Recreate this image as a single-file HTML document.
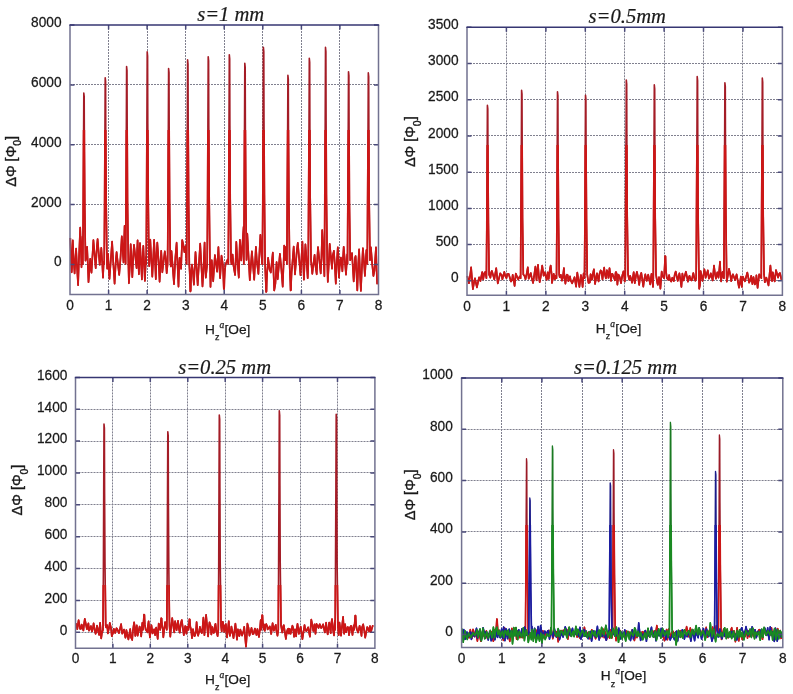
<!DOCTYPE html><html><head><meta charset="utf-8"><style>html,body{margin:0;padding:0;background:#fff;}svg{display:block;filter:blur(0.35px);}.t{font-family:"Liberation Sans",sans-serif;font-size:13.7px;fill:#1a1a1a;stroke:#1a1a1a;stroke-width:0.25px;}.ti{font-family:"Liberation Serif",serif;font-style:italic;font-size:20.6px;fill:#1a1a1a;stroke:#1a1a1a;stroke-width:0.2px;}.yl{font-family:"Liberation Sans",sans-serif;font-size:14.5px;fill:#1a1a1a;stroke:#1a1a1a;stroke-width:0.35px;}</style></head><body>
<svg width="793" height="694" viewBox="0 0 793 694">
<rect width="793" height="694" fill="#fff"/>
<defs><clipPath id="cp1"><rect x="68.0" y="130.0" width="312.5" height="166.4"/></clipPath><clipPath id="cp2"><rect x="465.0" y="145.0" width="319.4" height="152.3"/></clipPath><clipPath id="cp3"><rect x="73.5" y="585.0" width="303.4" height="65.2"/></clipPath><clipPath id="cp4"><rect x="459.6" y="525.0" width="325.2" height="124.4"/></clipPath></defs>
<path d="M108.5 25.0V294.4M147.5 25.0V294.4M185.5 25.0V294.4M224.5 25.0V294.4M262.5 25.0V294.4M301.5 25.0V294.4M339.5 25.0V294.4M70.0 264.5H378.5M70.0 204.5H378.5M70.0 144.5H378.5M70.0 84.5H378.5" stroke="#80808f" stroke-width="1" stroke-dasharray="2 1" fill="none"/>
<path d="M70.3 238.0 L71.1 259.7 L71.7 272.3 L72.3 261.9 L72.8 240.3 L73.5 257.4 L74.6 273.4 L75.5 257.7 L76.1 248.6 L77.4 273.8 L78.1 285.1 L78.9 260.3 L80.2 227.5 L81.5 267.3 L82.6 236.6 L82.8 264.0 L83.2 212.7 L83.5 151.2 L83.8 93.1 L84.2 96.5 L84.4 151.2 L84.8 209.3 L85.5 260.6 L86.5 255.7 L87.1 246.8 L87.8 263.4 L88.5 282.2 L90.2 258.9 L90.7 267.2 L91.5 272.7 L93.4 240.1 L95.7 268.2 L96.9 246.5 L97.6 239.0 L99.7 264.8 L100.8 254.9 L101.3 247.9 L102.3 263.8 L103.0 277.7 L103.7 261.5 L104.2 264.0 L104.6 208.1 L104.9 141.0 L105.2 77.7 L105.6 81.4 L105.8 141.0 L106.2 204.4 L106.9 260.3 L107.2 268.8 L108.1 254.0 L108.6 266.2 L109.5 278.9 L112.1 241.6 L113.2 261.3 L114.6 283.7 L115.9 259.7 L116.6 252.0 L118.1 265.6 L119.2 275.0 L120.4 259.6 L121.8 236.3 L123.5 262.5 L124.1 241.5 L124.6 225.9 L125.6 264.0 L126.0 204.8 L126.3 133.7 L126.6 66.6 L127.0 70.5 L127.2 133.7 L127.5 200.8 L128.3 260.1 L128.9 283.3 L130.1 261.5 L130.7 244.2 L131.5 260.7 L132.3 277.1 L133.3 255.1 L134.0 244.8 L136.6 268.1 L137.2 248.9 L137.6 240.4 L138.9 274.3 L140.0 243.1 L141.9 279.4 L142.5 261.0 L143.3 245.8 L144.9 280.9 L146.0 256.7 L146.2 264.0 L146.6 200.4 L146.9 124.0 L147.2 51.9 L147.6 56.1 L147.8 124.0 L148.2 196.1 L148.9 259.8 L149.2 266.2 L150.3 239.7 L150.9 251.8 L152.3 276.7 L153.3 256.9 L154.1 239.8 L154.8 254.8 L155.8 279.1 L156.7 253.0 L157.3 242.6 L158.6 260.7 L159.6 281.8 L160.5 263.7 L161.2 250.9 L161.8 260.9 L162.3 272.3 L163.6 261.5 L164.8 251.3 L165.8 259.4 L166.7 273.2 L167.6 264.0 L168.0 205.4 L168.3 135.0 L168.6 68.6 L169.0 72.5 L169.2 135.0 L169.6 201.5 L170.3 260.1 L170.8 266.5 L171.5 251.0 L174.0 284.1 L175.4 257.3 L176.6 242.7 L178.5 286.6 L179.1 266.7 L179.6 257.9 L181.1 268.8 L181.5 256.3 L182.2 240.0 L183.3 244.5 L184.4 252.1 L185.5 246.3 L186.6 264.0 L187.0 202.8 L187.3 129.3 L187.6 59.9 L188.0 64.0 L188.2 129.3 L188.6 198.7 L189.3 264.0 L189.7 272.2 L190.0 282.1 L190.3 291.5 L190.7 290.9 L190.9 282.1 L191.2 272.8 L192.0 264.6 L193.1 274.3 L193.9 284.6 L195.5 252.0 L196.4 264.7 L197.7 285.2 L198.4 272.4 L200.2 243.6 L202.5 286.5 L203.3 273.1 L204.6 242.5 L205.1 263.8 L205.8 277.6 L207.2 264.0 L207.6 201.8 L207.9 127.2 L208.2 56.7 L208.6 60.8 L208.8 127.2 L209.2 197.7 L209.9 259.9 L210.5 287.0 L211.2 269.6 L211.8 260.2 L212.6 273.7 L213.2 281.3 L214.9 255.1 L217.1 271.6 L217.5 263.7 L218.4 247.0 L219.0 260.6 L220.1 278.1 L221.5 255.7 L222.8 264.0 L223.2 271.5 L223.5 280.5 L223.8 289.0 L224.2 288.5 L224.4 280.5 L224.8 272.0 L225.5 264.5 L227.7 259.4 L228.3 264.0 L228.7 201.2 L229.0 125.9 L229.3 54.7 L229.7 58.9 L229.9 125.9 L230.2 197.0 L231.0 259.8 L231.5 264.1 L232.6 254.5 L233.5 265.6 L235.1 275.0 L235.9 254.2 L236.3 241.9 L237.3 259.3 L238.8 277.6 L239.2 263.4 L239.9 239.8 L241.3 260.5 L242.1 248.5 L243.6 226.8 L243.8 264.0 L244.2 203.8 L244.5 131.6 L244.8 63.4 L245.2 67.4 L245.4 131.6 L245.8 199.8 L246.5 260.0 L247.3 233.7 L248.2 250.1 L249.8 280.1 L251.9 251.4 L254.2 279.8 L255.9 246.9 L256.9 261.7 L258.4 274.0 L259.6 250.0 L260.4 234.8 L262.1 264.2 L262.4 264.0 L262.8 199.0 L263.1 120.9 L263.4 47.2 L263.8 51.5 L264.0 120.9 L264.4 194.6 L265.1 264.0 L265.4 272.4 L265.8 282.5 L266.1 292.0 L266.5 291.4 L266.7 282.5 L267.1 273.0 L267.8 264.6 L268.1 257.9 L269.6 269.5 L270.8 272.5 L272.8 252.5 L274.2 290.5 L275.4 283.5 L276.6 262.1 L277.3 271.8 L277.7 279.3 L279.9 253.8 L281.4 269.7 L282.7 286.7 L283.6 263.3 L284.2 245.5 L284.7 253.5 L285.4 260.2 L286.1 246.7 L286.7 248.9 L286.9 264.0 L287.2 207.4 L287.6 139.5 L287.9 75.3 L288.3 79.1 L288.5 139.5 L288.9 203.6 L289.6 264.0 L289.9 271.9 L290.3 281.5 L290.6 290.5 L291.0 290.0 L291.2 281.5 L291.6 272.5 L292.3 264.5 L293.7 246.5 L295.0 274.4 L296.9 249.9 L297.8 242.8 L300.5 275.1 L302.4 241.7 L303.9 279.7 L304.5 265.9 L305.4 244.3 L306.2 254.9 L307.7 278.2 L308.3 264.0 L308.6 202.3 L309.0 128.2 L309.3 58.3 L309.7 62.4 L309.9 128.2 L310.2 198.2 L311.0 259.9 L312.3 273.8 L313.0 267.6 L314.6 254.9 L315.4 265.3 L316.7 274.3 L317.3 259.1 L318.0 247.1 L320.7 273.5 L321.4 259.4 L322.2 230.0 L324.4 276.3 L324.5 264.0 L324.8 199.0 L325.2 120.9 L325.5 47.2 L325.9 51.5 L326.1 120.9 L326.4 194.6 L327.2 259.7 L327.8 281.9 L328.8 263.2 L329.7 243.8 L332.0 268.6 L332.7 255.6 L333.9 250.9 L334.7 262.5 L335.8 283.6 L336.6 266.1 L337.8 247.3 L338.4 256.0 L338.9 277.6 L339.6 267.6 L340.9 257.5 L342.4 271.3 L342.8 261.8 L343.7 246.8 L346.0 274.6 L347.2 254.3 L347.5 264.0 L347.8 206.3 L348.2 137.1 L348.5 71.7 L348.9 75.5 L349.1 137.1 L349.4 202.5 L350.2 260.2 L352.0 253.1 L353.7 281.5 L355.1 257.8 L355.6 256.1 L356.4 271.0 L357.3 290.4 L358.3 263.5 L359.1 249.4 L360.3 279.8 L360.9 290.9 L361.7 272.3 L362.9 248.2 L364.0 262.2 L364.9 276.0 L366.4 250.0 L367.3 264.0 L367.6 206.7 L368.0 137.9 L368.3 72.9 L368.7 76.7 L368.9 137.9 L369.2 202.8 L370.0 260.2 L370.4 251.6 L370.9 247.4 L372.2 264.0 L373.4 276.0 L374.4 270.9 L376.0 247.4 L376.6 269.9 L377.2 284.2" fill="none" stroke="#a41c26" stroke-width="1.6" stroke-linejoin="round"/>
<path d="M70.3 238.0 L71.1 259.7 L71.7 272.3 L72.3 261.9 L72.8 240.3 L73.5 257.4 L74.6 273.4 L75.5 257.7 L76.1 248.6 L77.4 273.8 L78.1 285.1 L78.9 260.3 L80.2 227.5 L81.5 267.3 L82.6 236.6 L82.8 264.0 L83.2 212.7 L83.5 151.2 L83.8 93.1 L84.2 96.5 L84.4 151.2 L84.8 209.3 L85.5 260.6 L86.5 255.7 L87.1 246.8 L87.8 263.4 L88.5 282.2 L90.2 258.9 L90.7 267.2 L91.5 272.7 L93.4 240.1 L95.7 268.2 L96.9 246.5 L97.6 239.0 L99.7 264.8 L100.8 254.9 L101.3 247.9 L102.3 263.8 L103.0 277.7 L103.7 261.5 L104.2 264.0 L104.6 208.1 L104.9 141.0 L105.2 77.7 L105.6 81.4 L105.8 141.0 L106.2 204.4 L106.9 260.3 L107.2 268.8 L108.1 254.0 L108.6 266.2 L109.5 278.9 L112.1 241.6 L113.2 261.3 L114.6 283.7 L115.9 259.7 L116.6 252.0 L118.1 265.6 L119.2 275.0 L120.4 259.6 L121.8 236.3 L123.5 262.5 L124.1 241.5 L124.6 225.9 L125.6 264.0 L126.0 204.8 L126.3 133.7 L126.6 66.6 L127.0 70.5 L127.2 133.7 L127.5 200.8 L128.3 260.1 L128.9 283.3 L130.1 261.5 L130.7 244.2 L131.5 260.7 L132.3 277.1 L133.3 255.1 L134.0 244.8 L136.6 268.1 L137.2 248.9 L137.6 240.4 L138.9 274.3 L140.0 243.1 L141.9 279.4 L142.5 261.0 L143.3 245.8 L144.9 280.9 L146.0 256.7 L146.2 264.0 L146.6 200.4 L146.9 124.0 L147.2 51.9 L147.6 56.1 L147.8 124.0 L148.2 196.1 L148.9 259.8 L149.2 266.2 L150.3 239.7 L150.9 251.8 L152.3 276.7 L153.3 256.9 L154.1 239.8 L154.8 254.8 L155.8 279.1 L156.7 253.0 L157.3 242.6 L158.6 260.7 L159.6 281.8 L160.5 263.7 L161.2 250.9 L161.8 260.9 L162.3 272.3 L163.6 261.5 L164.8 251.3 L165.8 259.4 L166.7 273.2 L167.6 264.0 L168.0 205.4 L168.3 135.0 L168.6 68.6 L169.0 72.5 L169.2 135.0 L169.6 201.5 L170.3 260.1 L170.8 266.5 L171.5 251.0 L174.0 284.1 L175.4 257.3 L176.6 242.7 L178.5 286.6 L179.1 266.7 L179.6 257.9 L181.1 268.8 L181.5 256.3 L182.2 240.0 L183.3 244.5 L184.4 252.1 L185.5 246.3 L186.6 264.0 L187.0 202.8 L187.3 129.3 L187.6 59.9 L188.0 64.0 L188.2 129.3 L188.6 198.7 L189.3 264.0 L189.7 272.2 L190.0 282.1 L190.3 291.5 L190.7 290.9 L190.9 282.1 L191.2 272.8 L192.0 264.6 L193.1 274.3 L193.9 284.6 L195.5 252.0 L196.4 264.7 L197.7 285.2 L198.4 272.4 L200.2 243.6 L202.5 286.5 L203.3 273.1 L204.6 242.5 L205.1 263.8 L205.8 277.6 L207.2 264.0 L207.6 201.8 L207.9 127.2 L208.2 56.7 L208.6 60.8 L208.8 127.2 L209.2 197.7 L209.9 259.9 L210.5 287.0 L211.2 269.6 L211.8 260.2 L212.6 273.7 L213.2 281.3 L214.9 255.1 L217.1 271.6 L217.5 263.7 L218.4 247.0 L219.0 260.6 L220.1 278.1 L221.5 255.7 L222.8 264.0 L223.2 271.5 L223.5 280.5 L223.8 289.0 L224.2 288.5 L224.4 280.5 L224.8 272.0 L225.5 264.5 L227.7 259.4 L228.3 264.0 L228.7 201.2 L229.0 125.9 L229.3 54.7 L229.7 58.9 L229.9 125.9 L230.2 197.0 L231.0 259.8 L231.5 264.1 L232.6 254.5 L233.5 265.6 L235.1 275.0 L235.9 254.2 L236.3 241.9 L237.3 259.3 L238.8 277.6 L239.2 263.4 L239.9 239.8 L241.3 260.5 L242.1 248.5 L243.6 226.8 L243.8 264.0 L244.2 203.8 L244.5 131.6 L244.8 63.4 L245.2 67.4 L245.4 131.6 L245.8 199.8 L246.5 260.0 L247.3 233.7 L248.2 250.1 L249.8 280.1 L251.9 251.4 L254.2 279.8 L255.9 246.9 L256.9 261.7 L258.4 274.0 L259.6 250.0 L260.4 234.8 L262.1 264.2 L262.4 264.0 L262.8 199.0 L263.1 120.9 L263.4 47.2 L263.8 51.5 L264.0 120.9 L264.4 194.6 L265.1 264.0 L265.4 272.4 L265.8 282.5 L266.1 292.0 L266.5 291.4 L266.7 282.5 L267.1 273.0 L267.8 264.6 L268.1 257.9 L269.6 269.5 L270.8 272.5 L272.8 252.5 L274.2 290.5 L275.4 283.5 L276.6 262.1 L277.3 271.8 L277.7 279.3 L279.9 253.8 L281.4 269.7 L282.7 286.7 L283.6 263.3 L284.2 245.5 L284.7 253.5 L285.4 260.2 L286.1 246.7 L286.7 248.9 L286.9 264.0 L287.2 207.4 L287.6 139.5 L287.9 75.3 L288.3 79.1 L288.5 139.5 L288.9 203.6 L289.6 264.0 L289.9 271.9 L290.3 281.5 L290.6 290.5 L291.0 290.0 L291.2 281.5 L291.6 272.5 L292.3 264.5 L293.7 246.5 L295.0 274.4 L296.9 249.9 L297.8 242.8 L300.5 275.1 L302.4 241.7 L303.9 279.7 L304.5 265.9 L305.4 244.3 L306.2 254.9 L307.7 278.2 L308.3 264.0 L308.6 202.3 L309.0 128.2 L309.3 58.3 L309.7 62.4 L309.9 128.2 L310.2 198.2 L311.0 259.9 L312.3 273.8 L313.0 267.6 L314.6 254.9 L315.4 265.3 L316.7 274.3 L317.3 259.1 L318.0 247.1 L320.7 273.5 L321.4 259.4 L322.2 230.0 L324.4 276.3 L324.5 264.0 L324.8 199.0 L325.2 120.9 L325.5 47.2 L325.9 51.5 L326.1 120.9 L326.4 194.6 L327.2 259.7 L327.8 281.9 L328.8 263.2 L329.7 243.8 L332.0 268.6 L332.7 255.6 L333.9 250.9 L334.7 262.5 L335.8 283.6 L336.6 266.1 L337.8 247.3 L338.4 256.0 L338.9 277.6 L339.6 267.6 L340.9 257.5 L342.4 271.3 L342.8 261.8 L343.7 246.8 L346.0 274.6 L347.2 254.3 L347.5 264.0 L347.8 206.3 L348.2 137.1 L348.5 71.7 L348.9 75.5 L349.1 137.1 L349.4 202.5 L350.2 260.2 L352.0 253.1 L353.7 281.5 L355.1 257.8 L355.6 256.1 L356.4 271.0 L357.3 290.4 L358.3 263.5 L359.1 249.4 L360.3 279.8 L360.9 290.9 L361.7 272.3 L362.9 248.2 L364.0 262.2 L364.9 276.0 L366.4 250.0 L367.3 264.0 L367.6 206.7 L368.0 137.9 L368.3 72.9 L368.7 76.7 L368.9 137.9 L369.2 202.8 L370.0 260.2 L370.4 251.6 L370.9 247.4 L372.2 264.0 L373.4 276.0 L374.4 270.9 L376.0 247.4 L376.6 269.9 L377.2 284.2" fill="none" stroke="#cc1616" stroke-width="1.7" stroke-linejoin="round" clip-path="url(#cp1)"/>
<path d="M108.6 294.4V289.9M108.6 25.0V29.5M147.1 294.4V289.9M147.1 25.0V29.5M185.7 294.4V289.9M185.7 25.0V29.5M224.2 294.4V289.9M224.2 25.0V29.5M262.8 294.4V289.9M262.8 25.0V29.5M301.4 294.4V289.9M301.4 25.0V29.5M339.9 294.4V289.9M339.9 25.0V29.5M70.0 264.5H74.5M378.5 264.5H374.0M70.0 204.6H74.5M378.5 204.6H374.0M70.0 144.7H74.5M378.5 144.7H374.0M70.0 84.9H74.5M378.5 84.9H374.0M70.0 25.0H74.5M378.5 25.0H374.0" stroke="#4a4a7a" stroke-width="1.5" fill="none"/>
<path d="M70.0 25.0V294.4H378.5V25.0" fill="none" stroke="#727290" stroke-width="1.5"/>
<path d="M69.3 25.0H379.2" fill="none" stroke="#363672" stroke-width="1.5"/>
<text class="t" transform="translate(70.0 309.5) scale(1 1.070)" text-anchor="middle">0</text>
<text class="t" transform="translate(108.6 309.5) scale(1 1.070)" text-anchor="middle">1</text>
<text class="t" transform="translate(147.1 309.5) scale(1 1.070)" text-anchor="middle">2</text>
<text class="t" transform="translate(185.7 309.5) scale(1 1.070)" text-anchor="middle">3</text>
<text class="t" transform="translate(224.2 309.5) scale(1 1.070)" text-anchor="middle">4</text>
<text class="t" transform="translate(262.8 309.5) scale(1 1.070)" text-anchor="middle">5</text>
<text class="t" transform="translate(301.4 309.5) scale(1 1.070)" text-anchor="middle">6</text>
<text class="t" transform="translate(339.9 309.5) scale(1 1.070)" text-anchor="middle">7</text>
<text class="t" transform="translate(378.5 309.5) scale(1 1.070)" text-anchor="middle">8</text>
<text class="t" transform="translate(61.5 266.4) scale(1 1.070)" text-anchor="end">0</text>
<text class="t" transform="translate(61.5 206.5) scale(1 1.070)" text-anchor="end">2000</text>
<text class="t" transform="translate(61.5 146.6) scale(1 1.070)" text-anchor="end">4000</text>
<text class="t" transform="translate(61.5 86.8) scale(1 1.070)" text-anchor="end">6000</text>
<text class="t" transform="translate(61.5 26.9) scale(1 1.070)" text-anchor="end">8000</text>
<text class="ti" x="230.7" y="20.8" text-anchor="middle">s=1 mm</text>
<text class="t" x="205.0" y="333.5">H<tspan font-size="9" dy="6.6">z</tspan><tspan font-family="Liberation Serif" font-style="italic" font-size="9.5" dy="-12.4">a</tspan><tspan dx="0.4" dy="5.8">[Oe]</tspan></text>
<text class="yl" transform="translate(10.5 161.3) rotate(-90)" text-anchor="middle" y="5">ΔΦ [Φ<tspan font-size="10.5" dy="5.5">0</tspan><tspan dy="-5.5">]</tspan></text>
<path d="M506.5 27.3V295.3M545.5 27.3V295.3M585.5 27.3V295.3M624.5 27.3V295.3M664.5 27.3V295.3M703.5 27.3V295.3M742.5 27.3V295.3M467.0 280.5H782.4M467.0 244.5H782.4M467.0 208.5H782.4M467.0 172.5H782.4M467.0 135.5H782.4M467.0 99.5H782.4M467.0 63.5H782.4" stroke="#80808f" stroke-width="1" stroke-dasharray="2 1" fill="none"/>
<path d="M467.3 276.0 L469.0 283.2 L470.1 276.0 L471.1 267.4 L472.3 282.2 L472.9 289.1 L474.1 282.0 L475.0 278.3 L476.9 287.4 L477.8 283.2 L479.1 277.4 L480.4 281.0 L482.2 272.1 L483.2 279.4 L484.3 273.2 L485.4 271.8 L486.4 278.2 L486.8 226.4 L487.1 164.2 L487.4 105.4 L487.8 108.9 L488.0 164.2 L488.4 222.9 L489.1 274.7 L490.4 277.6 L491.2 272.3 L491.9 270.9 L494.3 279.3 L496.2 268.2 L497.8 283.4 L500.2 273.4 L501.6 275.1 L502.4 279.3 L504.3 271.9 L505.3 276.1 L506.4 278.2 L507.4 274.0 L508.7 273.9 L511.0 281.5 L512.1 279.9 L512.7 274.9 L513.7 280.2 L514.6 285.9 L515.8 273.6 L518.2 279.5 L519.6 276.5 L520.6 278.2 L520.9 221.9 L521.3 154.3 L521.6 90.4 L522.0 94.2 L522.2 154.3 L522.5 218.1 L523.3 274.4 L523.4 274.6 L524.7 276.3 L525.5 279.2 L526.6 274.1 L527.8 267.3 L528.7 278.7 L530.8 273.1 L531.7 277.7 L533.1 283.0 L535.4 266.6 L536.5 280.3 L537.2 271.8 L538.0 264.9 L538.9 276.8 L539.7 282.2 L540.8 276.4 L542.2 265.6 L543.0 270.8 L543.6 275.6 L544.8 272.4 L546.7 279.8 L547.7 272.4 L548.7 278.9 L549.9 269.2 L550.7 265.5 L551.6 274.1 L551.9 283.0 L553.0 278.2 L553.7 273.8 L554.9 279.2 L555.7 275.8 L556.5 278.2 L556.9 222.3 L557.2 155.2 L557.5 91.8 L557.9 95.5 L558.1 155.2 L558.5 218.6 L559.2 274.5 L559.7 277.1 L560.8 274.8 L562.0 280.6 L562.8 277.9 L563.9 268.0 L564.4 275.9 L565.4 283.7 L566.5 275.4 L567.0 274.6 L567.7 275.1 L568.4 281.2 L570.0 276.4 L570.7 280.4 L572.2 283.3 L574.5 277.2 L576.1 286.7 L577.3 272.6 L578.7 282.2 L579.4 286.9 L580.9 275.0 L581.8 279.2 L582.6 286.9 L583.6 273.5 L584.5 278.2 L584.9 223.3 L585.2 157.4 L585.5 95.2 L585.9 98.9 L586.1 157.4 L586.5 219.6 L587.2 274.5 L588.5 282.9 L589.8 282.5 L590.6 274.2 L591.6 276.8 L592.0 279.6 L592.8 274.1 L593.9 269.3 L594.6 278.1 L595.0 284.0 L597.0 273.4 L598.6 281.4 L599.5 274.0 L600.6 270.4 L601.4 271.4 L602.5 279.5 L603.5 271.5 L604.2 267.6 L604.7 273.5 L605.9 278.4 L606.9 270.2 L607.9 273.2 L608.4 277.8 L608.8 275.0 L609.5 268.2 L610.1 272.5 L611.0 280.8 L611.8 274.1 L612.4 273.8 L614.9 280.3 L615.5 273.0 L616.0 272.0 L616.7 273.8 L617.4 284.7 L618.0 278.2 L618.5 274.7 L619.7 277.2 L621.0 283.1 L622.3 275.5 L623.4 271.4 L624.3 277.2 L624.7 281.5 L625.3 278.2 L625.6 218.8 L626.0 147.5 L626.3 80.1 L626.7 84.1 L626.9 147.5 L627.2 214.8 L628.0 274.2 L629.2 279.7 L630.2 275.9 L631.1 278.8 L632.1 282.7 L633.7 272.2 L634.8 283.1 L636.1 275.2 L636.9 271.9 L638.1 277.2 L639.2 285.0 L640.3 275.8 L641.3 272.9 L643.3 286.6 L644.0 280.8 L645.3 274.4 L646.7 280.8 L648.2 274.7 L650.2 284.4 L650.9 278.1 L651.5 273.8 L653.0 287.0 L653.3 278.2 L653.6 220.2 L654.0 150.6 L654.3 84.9 L654.7 88.8 L654.9 150.6 L655.2 216.3 L656.0 274.3 L657.3 283.0 L657.8 284.8 L659.0 277.2 L659.9 282.3 L660.4 288.7 L661.7 271.6 L662.5 275.8 L664.1 278.2 L664.4 271.5 L664.8 263.5 L665.1 256.0 L665.5 256.4 L665.7 263.5 L666.0 271.1 L666.8 277.8 L668.1 279.9 L669.1 275.1 L669.9 279.5 L671.2 281.5 L671.8 279.6 L672.3 277.7 L673.8 281.1 L674.7 274.7 L675.7 271.5 L677.7 280.9 L679.4 273.3 L680.7 281.8 L681.4 286.9 L682.4 273.6 L683.5 280.4 L685.9 271.7 L687.9 281.6 L688.9 277.2 L689.5 275.8 L690.4 279.1 L691.7 280.5 L693.3 273.0 L694.7 279.6 L695.4 280.7 L696.2 278.2 L696.5 217.7 L696.9 145.1 L697.2 76.6 L697.6 80.6 L697.8 145.1 L698.1 213.7 L698.9 274.2 L699.2 288.8 L699.9 285.4 L700.6 271.0 L701.6 276.1 L702.5 280.9 L704.4 269.4 L705.2 273.3 L705.6 277.8 L707.8 270.4 L708.9 278.7 L710.1 276.5 L710.8 273.3 L712.7 280.5 L714.0 265.5 L715.0 274.2 L716.0 278.7 L717.3 272.3 L718.5 277.6 L719.4 268.8 L720.0 261.7 L720.4 270.7 L721.1 281.4 L721.8 274.1 L722.7 271.8 L723.5 277.8 L723.9 278.2 L724.2 219.6 L724.6 149.2 L724.9 82.8 L725.3 86.7 L725.5 149.2 L725.9 215.7 L726.6 274.3 L726.8 281.7 L729.0 268.8 L730.3 275.0 L731.2 281.1 L732.0 276.8 L732.9 274.3 L735.1 280.0 L735.6 277.7 L736.6 274.4 L739.0 287.6 L739.7 284.4 L740.9 276.5 L741.9 286.9 L742.3 279.4 L742.9 276.7 L743.6 278.3 L745.0 281.3 L747.3 272.5 L748.3 277.3 L749.1 282.7 L750.2 280.6 L751.2 275.9 L752.4 284.1 L753.5 277.1 L754.8 284.4 L755.9 282.8 L756.4 275.4 L757.1 282.9 L757.6 287.8 L759.2 274.3 L761.3 278.2 L761.6 218.1 L762.0 146.1 L762.3 78.0 L762.7 82.0 L762.9 146.1 L763.2 214.1 L764.0 274.2 L764.4 277.4 L764.8 282.2 L765.4 279.6 L766.4 277.7 L768.5 285.4 L769.3 277.1 L770.4 265.5 L771.6 280.4 L772.1 281.0 L772.8 272.4 L774.7 281.4 L776.0 270.1 L778.1 277.6 L779.1 273.9 L779.9 273.0 L780.5 275.2 L781.6 280.2" fill="none" stroke="#a41c26" stroke-width="1.6" stroke-linejoin="round"/>
<path d="M467.3 276.0 L469.0 283.2 L470.1 276.0 L471.1 267.4 L472.3 282.2 L472.9 289.1 L474.1 282.0 L475.0 278.3 L476.9 287.4 L477.8 283.2 L479.1 277.4 L480.4 281.0 L482.2 272.1 L483.2 279.4 L484.3 273.2 L485.4 271.8 L486.4 278.2 L486.8 226.4 L487.1 164.2 L487.4 105.4 L487.8 108.9 L488.0 164.2 L488.4 222.9 L489.1 274.7 L490.4 277.6 L491.2 272.3 L491.9 270.9 L494.3 279.3 L496.2 268.2 L497.8 283.4 L500.2 273.4 L501.6 275.1 L502.4 279.3 L504.3 271.9 L505.3 276.1 L506.4 278.2 L507.4 274.0 L508.7 273.9 L511.0 281.5 L512.1 279.9 L512.7 274.9 L513.7 280.2 L514.6 285.9 L515.8 273.6 L518.2 279.5 L519.6 276.5 L520.6 278.2 L520.9 221.9 L521.3 154.3 L521.6 90.4 L522.0 94.2 L522.2 154.3 L522.5 218.1 L523.3 274.4 L523.4 274.6 L524.7 276.3 L525.5 279.2 L526.6 274.1 L527.8 267.3 L528.7 278.7 L530.8 273.1 L531.7 277.7 L533.1 283.0 L535.4 266.6 L536.5 280.3 L537.2 271.8 L538.0 264.9 L538.9 276.8 L539.7 282.2 L540.8 276.4 L542.2 265.6 L543.0 270.8 L543.6 275.6 L544.8 272.4 L546.7 279.8 L547.7 272.4 L548.7 278.9 L549.9 269.2 L550.7 265.5 L551.6 274.1 L551.9 283.0 L553.0 278.2 L553.7 273.8 L554.9 279.2 L555.7 275.8 L556.5 278.2 L556.9 222.3 L557.2 155.2 L557.5 91.8 L557.9 95.5 L558.1 155.2 L558.5 218.6 L559.2 274.5 L559.7 277.1 L560.8 274.8 L562.0 280.6 L562.8 277.9 L563.9 268.0 L564.4 275.9 L565.4 283.7 L566.5 275.4 L567.0 274.6 L567.7 275.1 L568.4 281.2 L570.0 276.4 L570.7 280.4 L572.2 283.3 L574.5 277.2 L576.1 286.7 L577.3 272.6 L578.7 282.2 L579.4 286.9 L580.9 275.0 L581.8 279.2 L582.6 286.9 L583.6 273.5 L584.5 278.2 L584.9 223.3 L585.2 157.4 L585.5 95.2 L585.9 98.9 L586.1 157.4 L586.5 219.6 L587.2 274.5 L588.5 282.9 L589.8 282.5 L590.6 274.2 L591.6 276.8 L592.0 279.6 L592.8 274.1 L593.9 269.3 L594.6 278.1 L595.0 284.0 L597.0 273.4 L598.6 281.4 L599.5 274.0 L600.6 270.4 L601.4 271.4 L602.5 279.5 L603.5 271.5 L604.2 267.6 L604.7 273.5 L605.9 278.4 L606.9 270.2 L607.9 273.2 L608.4 277.8 L608.8 275.0 L609.5 268.2 L610.1 272.5 L611.0 280.8 L611.8 274.1 L612.4 273.8 L614.9 280.3 L615.5 273.0 L616.0 272.0 L616.7 273.8 L617.4 284.7 L618.0 278.2 L618.5 274.7 L619.7 277.2 L621.0 283.1 L622.3 275.5 L623.4 271.4 L624.3 277.2 L624.7 281.5 L625.3 278.2 L625.6 218.8 L626.0 147.5 L626.3 80.1 L626.7 84.1 L626.9 147.5 L627.2 214.8 L628.0 274.2 L629.2 279.7 L630.2 275.9 L631.1 278.8 L632.1 282.7 L633.7 272.2 L634.8 283.1 L636.1 275.2 L636.9 271.9 L638.1 277.2 L639.2 285.0 L640.3 275.8 L641.3 272.9 L643.3 286.6 L644.0 280.8 L645.3 274.4 L646.7 280.8 L648.2 274.7 L650.2 284.4 L650.9 278.1 L651.5 273.8 L653.0 287.0 L653.3 278.2 L653.6 220.2 L654.0 150.6 L654.3 84.9 L654.7 88.8 L654.9 150.6 L655.2 216.3 L656.0 274.3 L657.3 283.0 L657.8 284.8 L659.0 277.2 L659.9 282.3 L660.4 288.7 L661.7 271.6 L662.5 275.8 L664.1 278.2 L664.4 271.5 L664.8 263.5 L665.1 256.0 L665.5 256.4 L665.7 263.5 L666.0 271.1 L666.8 277.8 L668.1 279.9 L669.1 275.1 L669.9 279.5 L671.2 281.5 L671.8 279.6 L672.3 277.7 L673.8 281.1 L674.7 274.7 L675.7 271.5 L677.7 280.9 L679.4 273.3 L680.7 281.8 L681.4 286.9 L682.4 273.6 L683.5 280.4 L685.9 271.7 L687.9 281.6 L688.9 277.2 L689.5 275.8 L690.4 279.1 L691.7 280.5 L693.3 273.0 L694.7 279.6 L695.4 280.7 L696.2 278.2 L696.5 217.7 L696.9 145.1 L697.2 76.6 L697.6 80.6 L697.8 145.1 L698.1 213.7 L698.9 274.2 L699.2 288.8 L699.9 285.4 L700.6 271.0 L701.6 276.1 L702.5 280.9 L704.4 269.4 L705.2 273.3 L705.6 277.8 L707.8 270.4 L708.9 278.7 L710.1 276.5 L710.8 273.3 L712.7 280.5 L714.0 265.5 L715.0 274.2 L716.0 278.7 L717.3 272.3 L718.5 277.6 L719.4 268.8 L720.0 261.7 L720.4 270.7 L721.1 281.4 L721.8 274.1 L722.7 271.8 L723.5 277.8 L723.9 278.2 L724.2 219.6 L724.6 149.2 L724.9 82.8 L725.3 86.7 L725.5 149.2 L725.9 215.7 L726.6 274.3 L726.8 281.7 L729.0 268.8 L730.3 275.0 L731.2 281.1 L732.0 276.8 L732.9 274.3 L735.1 280.0 L735.6 277.7 L736.6 274.4 L739.0 287.6 L739.7 284.4 L740.9 276.5 L741.9 286.9 L742.3 279.4 L742.9 276.7 L743.6 278.3 L745.0 281.3 L747.3 272.5 L748.3 277.3 L749.1 282.7 L750.2 280.6 L751.2 275.9 L752.4 284.1 L753.5 277.1 L754.8 284.4 L755.9 282.8 L756.4 275.4 L757.1 282.9 L757.6 287.8 L759.2 274.3 L761.3 278.2 L761.6 218.1 L762.0 146.1 L762.3 78.0 L762.7 82.0 L762.9 146.1 L763.2 214.1 L764.0 274.2 L764.4 277.4 L764.8 282.2 L765.4 279.6 L766.4 277.7 L768.5 285.4 L769.3 277.1 L770.4 265.5 L771.6 280.4 L772.1 281.0 L772.8 272.4 L774.7 281.4 L776.0 270.1 L778.1 277.6 L779.1 273.9 L779.9 273.0 L780.5 275.2 L781.6 280.2" fill="none" stroke="#cc1616" stroke-width="1.7" stroke-linejoin="round" clip-path="url(#cp2)"/>
<path d="M506.4 295.3V290.8M506.4 27.3V31.8M545.9 295.3V290.8M545.9 27.3V31.8M585.3 295.3V290.8M585.3 27.3V31.8M624.7 295.3V290.8M624.7 27.3V31.8M664.1 295.3V290.8M664.1 27.3V31.8M703.5 295.3V290.8M703.5 27.3V31.8M743.0 295.3V290.8M743.0 27.3V31.8M467.0 280.8H471.5M782.4 280.8H777.9M467.0 244.6H471.5M782.4 244.6H777.9M467.0 208.4H471.5M782.4 208.4H777.9M467.0 172.2H471.5M782.4 172.2H777.9M467.0 135.9H471.5M782.4 135.9H777.9M467.0 99.7H471.5M782.4 99.7H777.9M467.0 63.5H471.5M782.4 63.5H777.9M467.0 27.3H471.5M782.4 27.3H777.9" stroke="#4a4a7a" stroke-width="1.5" fill="none"/>
<path d="M467.0 27.3V295.3H782.4V27.3" fill="none" stroke="#727290" stroke-width="1.5"/>
<path d="M466.3 27.3H783.1" fill="none" stroke="#363672" stroke-width="1.5"/>
<text class="t" transform="translate(467.0 310.5) scale(1 1.070)" text-anchor="middle">0</text>
<text class="t" transform="translate(506.4 310.5) scale(1 1.070)" text-anchor="middle">1</text>
<text class="t" transform="translate(545.9 310.5) scale(1 1.070)" text-anchor="middle">2</text>
<text class="t" transform="translate(585.3 310.5) scale(1 1.070)" text-anchor="middle">3</text>
<text class="t" transform="translate(624.7 310.5) scale(1 1.070)" text-anchor="middle">4</text>
<text class="t" transform="translate(664.1 310.5) scale(1 1.070)" text-anchor="middle">5</text>
<text class="t" transform="translate(703.5 310.5) scale(1 1.070)" text-anchor="middle">6</text>
<text class="t" transform="translate(743.0 310.5) scale(1 1.070)" text-anchor="middle">7</text>
<text class="t" transform="translate(782.4 310.5) scale(1 1.070)" text-anchor="middle">8</text>
<text class="t" transform="translate(458.5 282.4) scale(1 1.070)" text-anchor="end">0</text>
<text class="t" transform="translate(458.5 246.2) scale(1 1.070)" text-anchor="end">500</text>
<text class="t" transform="translate(458.5 210.0) scale(1 1.070)" text-anchor="end">1000</text>
<text class="t" transform="translate(458.5 173.8) scale(1 1.070)" text-anchor="end">1500</text>
<text class="t" transform="translate(458.5 137.5) scale(1 1.070)" text-anchor="end">2000</text>
<text class="t" transform="translate(458.5 101.3) scale(1 1.070)" text-anchor="end">2500</text>
<text class="t" transform="translate(458.5 65.1) scale(1 1.070)" text-anchor="end">3000</text>
<text class="t" transform="translate(458.5 28.9) scale(1 1.070)" text-anchor="end">3500</text>
<text class="ti" x="627.3" y="22.7" text-anchor="middle">s=0.5mm</text>
<text class="t" x="595.8" y="332.7">H<tspan font-size="9" dy="6.6">z</tspan><tspan font-family="Liberation Serif" font-style="italic" font-size="9.5" dy="-12.4">a</tspan><tspan dx="0.4" dy="5.8">[Oe]</tspan></text>
<text class="yl" transform="translate(410.0 141.7) rotate(-90)" text-anchor="middle" y="5">ΔΦ [Φ<tspan font-size="10.5" dy="5.5">0</tspan><tspan dy="-5.5">]</tspan></text>
<path d="M112.5 377.4V648.2M150.5 377.4V648.2M187.5 377.4V648.2M225.5 377.4V648.2M262.5 377.4V648.2M300.5 377.4V648.2M337.5 377.4V648.2M75.5 632.5H374.9M75.5 600.5H374.9M75.5 568.5H374.9M75.5 536.5H374.9M75.5 504.5H374.9M75.5 472.5H374.9M75.5 441.5H374.9M75.5 409.5H374.9" stroke="#80808f" stroke-width="1" stroke-dasharray="2 1" fill="none"/>
<path d="M75.8 623.3 L76.8 626.9 L77.3 629.2 L78.6 620.2 L80.1 628.9 L81.1 628.6 L81.7 624.6 L82.4 627.0 L83.4 630.4 L84.0 624.6 L84.8 618.9 L86.9 629.2 L87.4 627.5 L88.2 624.0 L88.4 623.4 L89.0 630.7 L90.9 626.1 L91.8 630.8 L92.1 631.3 L93.1 627.3 L93.6 623.3 L94.9 630.6 L95.6 633.8 L96.4 631.2 L97.0 625.7 L99.1 634.9 L99.4 629.9 L100.1 622.8 L100.5 627.5 L101.2 638.5 L101.9 633.1 L103.0 629.8 L103.4 568.1 L103.7 494.0 L104.0 424.1 L104.4 428.2 L104.6 494.0 L105.0 564.0 L105.7 625.7 L106.1 627.4 L107.2 625.2 L107.9 633.4 L109.1 627.5 L109.8 622.9 L111.0 628.0 L111.8 636.1 L113.1 632.8 L113.8 628.9 L114.7 630.9 L115.2 633.0 L116.5 628.2 L117.2 629.1 L119.0 633.1 L121.1 624.1 L122.2 633.7 L122.9 632.1 L124.0 629.6 L125.4 637.7 L125.8 636.2 L126.4 630.1 L127.3 634.5 L128.4 639.4 L130.2 629.1 L131.0 637.5 L132.2 640.0 L132.9 630.8 L134.1 622.3 L134.6 625.7 L135.3 635.9 L136.8 625.4 L137.6 635.7 L139.6 626.5 L140.4 628.9 L141.2 636.5 L142.3 622.8 L143.0 629.8 L143.3 625.2 L143.7 619.8 L144.0 614.6 L144.4 614.9 L144.6 619.8 L144.9 624.9 L145.7 629.5 L147.5 632.3 L147.9 626.1 L148.6 621.4 L149.9 637.5 L151.4 625.2 L152.6 633.4 L154.1 629.3 L155.1 635.2 L155.8 629.7 L156.2 627.5 L157.7 639.0 L158.4 628.5 L158.7 623.5 L159.8 626.2 L160.2 629.8 L160.6 626.3 L160.9 622.1 L161.2 618.2 L161.6 618.4 L161.8 622.1 L162.2 626.1 L162.9 629.6 L163.3 637.3 L165.1 622.1 L166.8 629.8 L167.2 570.4 L167.5 499.1 L167.8 431.7 L168.2 435.7 L168.4 499.1 L168.8 566.4 L169.5 625.8 L170.3 636.7 L171.0 628.4 L172.2 618.1 L174.2 632.5 L174.7 625.7 L175.1 621.2 L176.6 630.2 L178.0 620.9 L179.1 629.7 L179.8 632.6 L180.8 623.5 L181.8 620.1 L183.8 635.1 L184.8 628.8 L185.2 626.0 L186.4 633.7 L186.6 631.8 L187.2 626.6 L188.4 629.8 L188.8 626.6 L189.1 622.8 L189.4 619.2 L189.8 619.4 L190.0 622.8 L190.3 626.4 L191.1 629.6 L191.3 631.4 L192.0 638.2 L193.0 629.2 L194.4 636.1 L195.0 635.7 L196.0 631.1 L196.6 622.0 L197.5 632.6 L198.1 635.7 L199.3 630.7 L199.9 626.8 L200.8 631.1 L201.8 633.1 L202.6 627.3 L203.4 617.6 L204.4 635.1 L206.1 614.8 L206.9 623.6 L208.1 636.4 L208.8 627.8 L209.5 622.3 L210.6 625.6 L211.3 634.5 L211.7 632.8 L212.4 627.0 L213.7 632.9 L214.4 632.4 L215.1 624.9 L215.5 623.8 L216.5 631.5 L217.6 636.1 L218.3 629.8 L218.7 565.4 L219.0 488.1 L219.3 415.1 L219.7 419.4 L219.9 488.1 L220.2 561.1 L221.0 625.5 L221.7 631.4 L222.4 621.8 L222.9 621.9 L223.4 625.3 L224.3 631.8 L224.9 625.9 L225.9 624.1 L226.3 630.7 L227.0 637.5 L228.8 621.2 L229.2 629.5 L229.9 635.8 L230.8 631.5 L231.4 626.5 L233.5 638.1 L234.6 630.1 L235.4 623.7 L236.3 632.5 L237.0 639.7 L237.5 632.4 L237.9 629.3 L238.7 634.0 L239.3 636.1 L239.6 635.1 L240.3 629.5 L242.1 635.6 L243.5 631.0 L244.2 626.9 L246.0 646.8 L246.8 634.9 L247.4 623.6 L248.5 627.8 L249.5 635.6 L251.5 627.9 L252.7 634.1 L253.6 633.8 L254.9 628.5 L256.5 635.0 L257.4 629.0 L259.0 637.0 L260.0 628.2 L260.7 620.1 L261.1 629.8 L261.4 625.4 L261.8 620.2 L262.1 615.2 L262.5 615.5 L262.7 620.2 L263.1 625.1 L263.8 629.5 L263.9 624.4 L264.4 626.4 L264.8 630.8 L265.4 625.9 L266.2 624.1 L267.1 626.2 L267.6 629.4 L269.8 626.4 L271.2 634.0 L272.6 623.2 L273.8 630.7 L274.7 627.9 L275.8 624.9 L276.3 630.3 L277.5 635.7 L278.3 629.8 L278.6 564.1 L279.0 485.3 L279.3 410.8 L279.7 415.2 L279.9 485.3 L280.2 559.7 L281.0 625.4 L282.3 632.5 L283.3 626.1 L283.8 625.2 L285.9 639.0 L286.8 632.0 L287.6 629.5 L288.2 628.7 L288.5 633.5 L289.7 628.9 L290.2 633.7 L290.6 633.8 L292.4 625.7 L293.0 627.4 L294.1 636.8 L294.4 632.2 L295.0 629.4 L296.1 636.3 L297.0 627.1 L297.5 623.9 L298.5 630.7 L298.9 633.8 L300.7 626.7 L302.4 639.1 L303.2 634.0 L304.5 625.0 L305.4 630.0 L306.4 631.1 L308.1 627.3 L309.9 636.6 L311.3 619.6 L312.5 625.7 L313.3 631.0 L314.1 629.7 L314.5 624.4 L315.5 633.8 L315.8 630.1 L316.5 623.8 L318.5 628.0 L319.2 625.4 L319.8 624.2 L320.8 627.8 L321.5 628.0 L323.1 624.3 L324.8 632.4 L325.6 626.8 L326.1 622.7 L326.8 629.1 L327.7 634.3 L329.2 622.5 L330.7 633.2 L331.1 624.6 L332.0 619.1 L333.1 630.4 L334.0 635.4 L334.9 620.5 L335.2 629.8 L335.5 565.2 L335.9 487.6 L336.2 414.4 L336.6 418.7 L336.8 487.6 L337.1 560.9 L337.9 625.5 L338.7 635.1 L339.0 629.5 L339.5 622.6 L341.0 635.6 L343.1 616.8 L343.6 626.3 L344.1 633.8 L344.6 629.3 L345.1 624.2 L346.0 632.2 L346.4 631.6 L347.1 628.9 L347.6 627.1 L348.5 627.6 L349.0 635.2 L350.4 626.7 L351.1 625.8 L352.5 635.0 L353.3 627.4 L353.8 625.3 L354.2 629.8 L354.5 625.5 L354.9 620.4 L355.2 615.5 L355.6 615.8 L355.8 620.4 L356.1 625.2 L356.9 629.5 L358.1 632.5 L359.6 625.8 L360.9 631.7 L361.5 636.0 L362.1 627.2 L363.2 624.3 L364.5 632.2 L365.2 637.6 L367.2 627.1 L369.1 631.5 L369.5 627.8 L370.0 626.1 L370.3 628.6 L370.9 632.2 L371.7 629.1 L372.9 625.3" fill="none" stroke="#a41c26" stroke-width="1.6" stroke-linejoin="round"/>
<path d="M75.8 623.3 L76.8 626.9 L77.3 629.2 L78.6 620.2 L80.1 628.9 L81.1 628.6 L81.7 624.6 L82.4 627.0 L83.4 630.4 L84.0 624.6 L84.8 618.9 L86.9 629.2 L87.4 627.5 L88.2 624.0 L88.4 623.4 L89.0 630.7 L90.9 626.1 L91.8 630.8 L92.1 631.3 L93.1 627.3 L93.6 623.3 L94.9 630.6 L95.6 633.8 L96.4 631.2 L97.0 625.7 L99.1 634.9 L99.4 629.9 L100.1 622.8 L100.5 627.5 L101.2 638.5 L101.9 633.1 L103.0 629.8 L103.4 568.1 L103.7 494.0 L104.0 424.1 L104.4 428.2 L104.6 494.0 L105.0 564.0 L105.7 625.7 L106.1 627.4 L107.2 625.2 L107.9 633.4 L109.1 627.5 L109.8 622.9 L111.0 628.0 L111.8 636.1 L113.1 632.8 L113.8 628.9 L114.7 630.9 L115.2 633.0 L116.5 628.2 L117.2 629.1 L119.0 633.1 L121.1 624.1 L122.2 633.7 L122.9 632.1 L124.0 629.6 L125.4 637.7 L125.8 636.2 L126.4 630.1 L127.3 634.5 L128.4 639.4 L130.2 629.1 L131.0 637.5 L132.2 640.0 L132.9 630.8 L134.1 622.3 L134.6 625.7 L135.3 635.9 L136.8 625.4 L137.6 635.7 L139.6 626.5 L140.4 628.9 L141.2 636.5 L142.3 622.8 L143.0 629.8 L143.3 625.2 L143.7 619.8 L144.0 614.6 L144.4 614.9 L144.6 619.8 L144.9 624.9 L145.7 629.5 L147.5 632.3 L147.9 626.1 L148.6 621.4 L149.9 637.5 L151.4 625.2 L152.6 633.4 L154.1 629.3 L155.1 635.2 L155.8 629.7 L156.2 627.5 L157.7 639.0 L158.4 628.5 L158.7 623.5 L159.8 626.2 L160.2 629.8 L160.6 626.3 L160.9 622.1 L161.2 618.2 L161.6 618.4 L161.8 622.1 L162.2 626.1 L162.9 629.6 L163.3 637.3 L165.1 622.1 L166.8 629.8 L167.2 570.4 L167.5 499.1 L167.8 431.7 L168.2 435.7 L168.4 499.1 L168.8 566.4 L169.5 625.8 L170.3 636.7 L171.0 628.4 L172.2 618.1 L174.2 632.5 L174.7 625.7 L175.1 621.2 L176.6 630.2 L178.0 620.9 L179.1 629.7 L179.8 632.6 L180.8 623.5 L181.8 620.1 L183.8 635.1 L184.8 628.8 L185.2 626.0 L186.4 633.7 L186.6 631.8 L187.2 626.6 L188.4 629.8 L188.8 626.6 L189.1 622.8 L189.4 619.2 L189.8 619.4 L190.0 622.8 L190.3 626.4 L191.1 629.6 L191.3 631.4 L192.0 638.2 L193.0 629.2 L194.4 636.1 L195.0 635.7 L196.0 631.1 L196.6 622.0 L197.5 632.6 L198.1 635.7 L199.3 630.7 L199.9 626.8 L200.8 631.1 L201.8 633.1 L202.6 627.3 L203.4 617.6 L204.4 635.1 L206.1 614.8 L206.9 623.6 L208.1 636.4 L208.8 627.8 L209.5 622.3 L210.6 625.6 L211.3 634.5 L211.7 632.8 L212.4 627.0 L213.7 632.9 L214.4 632.4 L215.1 624.9 L215.5 623.8 L216.5 631.5 L217.6 636.1 L218.3 629.8 L218.7 565.4 L219.0 488.1 L219.3 415.1 L219.7 419.4 L219.9 488.1 L220.2 561.1 L221.0 625.5 L221.7 631.4 L222.4 621.8 L222.9 621.9 L223.4 625.3 L224.3 631.8 L224.9 625.9 L225.9 624.1 L226.3 630.7 L227.0 637.5 L228.8 621.2 L229.2 629.5 L229.9 635.8 L230.8 631.5 L231.4 626.5 L233.5 638.1 L234.6 630.1 L235.4 623.7 L236.3 632.5 L237.0 639.7 L237.5 632.4 L237.9 629.3 L238.7 634.0 L239.3 636.1 L239.6 635.1 L240.3 629.5 L242.1 635.6 L243.5 631.0 L244.2 626.9 L246.0 646.8 L246.8 634.9 L247.4 623.6 L248.5 627.8 L249.5 635.6 L251.5 627.9 L252.7 634.1 L253.6 633.8 L254.9 628.5 L256.5 635.0 L257.4 629.0 L259.0 637.0 L260.0 628.2 L260.7 620.1 L261.1 629.8 L261.4 625.4 L261.8 620.2 L262.1 615.2 L262.5 615.5 L262.7 620.2 L263.1 625.1 L263.8 629.5 L263.9 624.4 L264.4 626.4 L264.8 630.8 L265.4 625.9 L266.2 624.1 L267.1 626.2 L267.6 629.4 L269.8 626.4 L271.2 634.0 L272.6 623.2 L273.8 630.7 L274.7 627.9 L275.8 624.9 L276.3 630.3 L277.5 635.7 L278.3 629.8 L278.6 564.1 L279.0 485.3 L279.3 410.8 L279.7 415.2 L279.9 485.3 L280.2 559.7 L281.0 625.4 L282.3 632.5 L283.3 626.1 L283.8 625.2 L285.9 639.0 L286.8 632.0 L287.6 629.5 L288.2 628.7 L288.5 633.5 L289.7 628.9 L290.2 633.7 L290.6 633.8 L292.4 625.7 L293.0 627.4 L294.1 636.8 L294.4 632.2 L295.0 629.4 L296.1 636.3 L297.0 627.1 L297.5 623.9 L298.5 630.7 L298.9 633.8 L300.7 626.7 L302.4 639.1 L303.2 634.0 L304.5 625.0 L305.4 630.0 L306.4 631.1 L308.1 627.3 L309.9 636.6 L311.3 619.6 L312.5 625.7 L313.3 631.0 L314.1 629.7 L314.5 624.4 L315.5 633.8 L315.8 630.1 L316.5 623.8 L318.5 628.0 L319.2 625.4 L319.8 624.2 L320.8 627.8 L321.5 628.0 L323.1 624.3 L324.8 632.4 L325.6 626.8 L326.1 622.7 L326.8 629.1 L327.7 634.3 L329.2 622.5 L330.7 633.2 L331.1 624.6 L332.0 619.1 L333.1 630.4 L334.0 635.4 L334.9 620.5 L335.2 629.8 L335.5 565.2 L335.9 487.6 L336.2 414.4 L336.6 418.7 L336.8 487.6 L337.1 560.9 L337.9 625.5 L338.7 635.1 L339.0 629.5 L339.5 622.6 L341.0 635.6 L343.1 616.8 L343.6 626.3 L344.1 633.8 L344.6 629.3 L345.1 624.2 L346.0 632.2 L346.4 631.6 L347.1 628.9 L347.6 627.1 L348.5 627.6 L349.0 635.2 L350.4 626.7 L351.1 625.8 L352.5 635.0 L353.3 627.4 L353.8 625.3 L354.2 629.8 L354.5 625.5 L354.9 620.4 L355.2 615.5 L355.6 615.8 L355.8 620.4 L356.1 625.2 L356.9 629.5 L358.1 632.5 L359.6 625.8 L360.9 631.7 L361.5 636.0 L362.1 627.2 L363.2 624.3 L364.5 632.2 L365.2 637.6 L367.2 627.1 L369.1 631.5 L369.5 627.8 L370.0 626.1 L370.3 628.6 L370.9 632.2 L371.7 629.1 L372.9 625.3" fill="none" stroke="#cc1616" stroke-width="1.7" stroke-linejoin="round" clip-path="url(#cp3)"/>
<path d="M112.9 648.2V643.7M112.9 377.4V381.9M150.3 648.2V643.7M150.3 377.4V381.9M187.8 648.2V643.7M187.8 377.4V381.9M225.2 648.2V643.7M225.2 377.4V381.9M262.6 648.2V643.7M262.6 377.4V381.9M300.0 648.2V643.7M300.0 377.4V381.9M337.5 648.2V643.7M337.5 377.4V381.9M75.5 632.3H80.0M374.9 632.3H370.4M75.5 600.4H80.0M374.9 600.4H370.4M75.5 568.6H80.0M374.9 568.6H370.4M75.5 536.7H80.0M374.9 536.7H370.4M75.5 504.8H80.0M374.9 504.8H370.4M75.5 473.0H80.0M374.9 473.0H370.4M75.5 441.1H80.0M374.9 441.1H370.4M75.5 409.3H80.0M374.9 409.3H370.4M75.5 377.4H80.0M374.9 377.4H370.4" stroke="#4a4a7a" stroke-width="1.5" fill="none"/>
<path d="M75.5 377.4V648.2H374.9V377.4" fill="none" stroke="#727290" stroke-width="1.5"/>
<path d="M74.8 377.4H375.6" fill="none" stroke="#363672" stroke-width="1.5"/>
<text class="t" transform="translate(75.5 662.7) scale(1 1.070)" text-anchor="middle">0</text>
<text class="t" transform="translate(112.9 662.7) scale(1 1.070)" text-anchor="middle">1</text>
<text class="t" transform="translate(150.3 662.7) scale(1 1.070)" text-anchor="middle">2</text>
<text class="t" transform="translate(187.8 662.7) scale(1 1.070)" text-anchor="middle">3</text>
<text class="t" transform="translate(225.2 662.7) scale(1 1.070)" text-anchor="middle">4</text>
<text class="t" transform="translate(262.6 662.7) scale(1 1.070)" text-anchor="middle">5</text>
<text class="t" transform="translate(300.0 662.7) scale(1 1.070)" text-anchor="middle">6</text>
<text class="t" transform="translate(337.5 662.7) scale(1 1.070)" text-anchor="middle">7</text>
<text class="t" transform="translate(374.9 662.7) scale(1 1.070)" text-anchor="middle">8</text>
<text class="t" transform="translate(67.4 634.6) scale(1 1.070)" text-anchor="end">0</text>
<text class="t" transform="translate(67.4 602.7) scale(1 1.070)" text-anchor="end">200</text>
<text class="t" transform="translate(67.4 570.9) scale(1 1.070)" text-anchor="end">400</text>
<text class="t" transform="translate(67.4 539.0) scale(1 1.070)" text-anchor="end">600</text>
<text class="t" transform="translate(67.4 507.1) scale(1 1.070)" text-anchor="end">800</text>
<text class="t" transform="translate(67.4 475.3) scale(1 1.070)" text-anchor="end">1000</text>
<text class="t" transform="translate(67.4 443.4) scale(1 1.070)" text-anchor="end">1200</text>
<text class="t" transform="translate(67.4 411.6) scale(1 1.070)" text-anchor="end">1400</text>
<text class="t" transform="translate(67.4 379.7) scale(1 1.070)" text-anchor="end">1600</text>
<text class="ti" x="224.6" y="373.8" text-anchor="middle">s=0.25 mm</text>
<text class="t" x="205.0" y="683.7">H<tspan font-size="9" dy="6.6">z</tspan><tspan font-family="Liberation Serif" font-style="italic" font-size="9.5" dy="-12.4">a</tspan><tspan dx="0.4" dy="5.8">[Oe]</tspan></text>
<text class="yl" transform="translate(17.0 490.0) rotate(-90)" text-anchor="middle" y="5">ΔΦ [Φ<tspan font-size="10.5" dy="5.5">0</tspan><tspan dy="-5.5">]</tspan></text>
<path d="M501.5 378.0V647.4M541.5 378.0V647.4M582.5 378.0V647.4M622.5 378.0V647.4M662.5 378.0V647.4M702.5 378.0V647.4M742.5 378.0V647.4M461.6 634.5H782.8M461.6 583.5H782.8M461.6 531.5H782.8M461.6 480.5H782.8M461.6 429.5H782.8" stroke="#80808f" stroke-width="1" stroke-dasharray="2 1" fill="none"/>
<path d="M461.9 633.6 L462.4 637.2 L462.8 638.0 L463.5 636.7 L464.5 632.9 L466.5 637.6 L467.3 637.2 L468.1 633.3 L468.4 633.5 L469.1 637.8 L469.5 635.2 L470.3 629.6 L471.3 635.2 L471.8 638.5 L472.5 633.6 L473.0 629.4 L473.7 631.2 L474.3 636.5 L474.8 635.4 L475.6 632.8 L477.4 641.1 L478.2 634.8 L479.1 631.5 L479.9 637.3 L480.9 641.3 L481.9 636.8 L482.8 629.9 L484.0 636.1 L485.2 633.3 L486.4 630.9 L487.0 636.8 L487.4 638.3 L488.6 633.9 L489.4 634.8 L490.6 636.4 L491.2 634.7 L491.9 631.5 L492.5 638.0 L493.4 641.2 L494.2 634.3 L494.7 629.9 L495.8 634.0 L496.1 629.5 L496.5 624.1 L496.8 619.0 L497.2 619.3 L497.4 624.1 L497.8 629.2 L498.5 633.7 L499.4 634.6 L500.2 637.4 L500.8 635.4 L501.3 631.1 L503.4 640.4 L503.9 636.4 L504.6 627.9 L505.4 634.1 L505.9 636.1 L507.2 631.3 L508.0 630.6 L508.6 635.7 L509.8 641.4 L511.2 632.3 L511.9 628.4 L512.7 633.3 L513.4 636.3 L515.5 627.9 L516.6 639.1 L517.0 635.9 L517.5 630.7 L518.6 634.4 L519.9 637.7 L521.9 632.9 L522.4 636.2 L522.9 637.8 L523.6 632.8 L524.2 631.5 L525.4 634.0 L525.8 581.4 L526.1 518.3 L526.5 458.7 L526.8 462.2 L527.0 518.3 L527.4 577.9 L528.1 630.5 L528.3 639.1 L529.1 633.0 L529.7 632.3 L531.2 637.4 L532.0 635.5 L532.7 632.8 L534.3 637.7 L535.6 632.8 L536.3 630.2 L537.3 631.9 L538.6 635.8 L539.4 632.3 L540.1 631.5 L541.3 638.5 L541.9 641.1 L542.2 638.2 L542.9 630.7 L543.6 634.9 L543.9 637.9 L545.2 632.7 L545.9 634.0 L546.5 636.4 L547.6 630.9 L548.6 630.6 L549.6 635.4 L550.1 632.3 L551.0 627.6 L552.3 635.4 L552.8 638.7 L553.5 634.6 L553.8 631.1 L555.1 635.9 L556.7 631.6 L557.7 638.2 L558.2 641.8 L559.5 634.8 L560.5 630.6 L561.4 634.6 L562.7 630.6 L563.6 630.3 L564.9 633.2 L565.5 634.3 L566.9 629.6 L567.2 632.5 L567.9 639.1 L568.8 632.1 L569.3 627.8 L571.2 635.5 L571.8 632.4 L572.3 630.8 L574.0 635.7 L575.1 633.3 L576.2 631.2 L576.7 635.8 L577.1 637.1 L578.4 629.6 L579.2 635.3 L579.9 638.1 L580.6 633.4 L581.0 631.3 L582.5 635.8 L583.7 631.9 L584.4 627.2 L585.5 634.4 L586.4 636.3 L588.3 632.2 L589.6 638.7 L591.8 629.7 L592.7 635.6 L593.3 634.5 L594.4 631.6 L594.9 636.1 L595.6 638.7 L597.6 631.6 L598.8 637.0 L599.6 638.4 L600.7 632.8 L602.1 636.8 L603.2 629.1 L603.6 632.9 L604.2 637.6 L604.9 633.3 L605.3 631.9 L605.7 633.7 L606.4 640.1 L608.2 632.0 L608.7 634.4 L609.6 638.3 L610.1 635.3 L610.9 629.6 L611.4 633.7 L612.1 637.8 L612.5 634.0 L612.9 578.7 L613.2 512.4 L613.5 449.7 L613.9 453.4 L614.1 512.4 L614.5 575.0 L615.2 630.3 L616.1 640.7 L617.9 630.0 L618.3 633.2 L619.0 638.8 L620.4 630.6 L621.0 635.2 L621.5 635.4 L623.7 632.8 L624.6 637.5 L625.4 635.6 L626.5 631.0 L627.2 633.1 L627.7 634.8 L628.3 632.6 L629.0 631.9 L629.8 634.4 L630.7 636.6 L631.6 631.3 L632.3 629.9 L633.0 632.1 L634.4 640.5 L635.9 632.6 L636.3 636.9 L636.9 637.6 L639.0 632.5 L639.9 632.1 L640.9 636.0 L641.5 633.4 L642.2 631.7 L643.2 638.3 L644.0 631.8 L644.3 632.2 L644.9 633.0 L646.0 636.6 L648.0 628.8 L648.7 633.0 L649.3 636.5 L651.0 629.5 L651.7 633.2 L652.0 634.0 L654.2 630.9 L654.7 635.1 L655.1 637.0 L656.0 631.1 L656.8 625.5 L657.5 629.8 L658.9 635.4 L659.6 631.6 L660.3 631.0 L661.2 636.7 L662.6 632.2 L663.4 637.4 L664.5 640.7 L665.2 637.8 L666.6 629.5 L667.3 636.4 L667.5 639.8 L667.9 635.2 L668.6 629.1 L670.7 637.0 L671.2 635.9 L672.1 631.6 L672.9 631.1 L674.3 634.6 L675.2 633.8 L675.7 631.9 L676.7 631.8 L678.0 635.1 L680.2 630.6 L682.1 636.9 L682.9 632.9 L683.4 630.9 L684.1 631.5 L685.4 633.3 L686.6 626.6 L688.9 636.8 L690.3 627.9 L690.8 630.1 L691.7 633.7 L692.5 629.6 L692.9 630.6 L694.2 635.9 L696.4 630.9 L698.3 634.2 L699.5 630.0 L700.3 633.0 L701.5 634.6 L702.5 630.3 L703.2 630.0 L704.6 634.8 L705.6 630.5 L706.2 627.3 L706.9 634.1 L707.3 637.2 L709.4 630.2 L710.3 633.7 L711.5 634.8 L712.2 632.0 L712.7 627.0 L714.4 638.1 L715.2 632.9 L716.3 625.7 L718.4 634.0 L718.8 574.3 L719.1 502.7 L719.4 435.0 L719.8 439.0 L720.0 502.7 L720.4 570.3 L721.1 630.0 L721.5 639.4 L723.0 632.1 L723.7 629.0 L724.3 631.9 L724.8 636.5 L726.5 630.1 L727.6 633.6 L728.2 637.8 L729.3 632.6 L729.7 634.7 L730.1 635.9 L731.2 629.0 L731.7 627.7 L732.8 635.6 L734.1 630.8 L735.4 641.7 L737.1 627.7 L738.2 635.7 L738.8 640.9 L740.1 630.8 L741.3 634.7 L742.2 639.4 L742.8 635.4 L744.1 632.2 L744.8 633.5 L745.2 636.4 L746.1 633.0 L746.6 630.0 L747.1 632.4 L747.5 638.2 L748.5 631.1 L749.1 633.2 L749.5 636.7 L751.6 632.8 L752.9 634.6 L753.5 636.6 L754.2 634.2 L754.8 630.0 L757.0 634.4 L758.9 629.9 L759.3 629.6 L760.2 634.5 L761.2 630.5 L761.9 636.0 L762.5 639.3 L763.6 633.0 L764.2 628.9 L766.2 633.7 L768.2 631.4 L769.1 633.5 L769.7 635.5 L770.6 630.7 L771.5 627.8 L772.7 635.8 L773.3 639.6 L773.9 633.7 L774.6 631.2 L775.0 631.2 L775.9 634.2 L776.9 631.0 L777.7 628.6 L779.3 634.9 L779.7 632.5 L780.2 630.5 L780.9 637.5 L781.3 639.0" fill="none" stroke="#9a1a26" stroke-width="1.35" stroke-linejoin="round"/>
<path d="M461.9 633.6 L462.4 637.2 L462.8 638.0 L463.5 636.7 L464.5 632.9 L466.5 637.6 L467.3 637.2 L468.1 633.3 L468.4 633.5 L469.1 637.8 L469.5 635.2 L470.3 629.6 L471.3 635.2 L471.8 638.5 L472.5 633.6 L473.0 629.4 L473.7 631.2 L474.3 636.5 L474.8 635.4 L475.6 632.8 L477.4 641.1 L478.2 634.8 L479.1 631.5 L479.9 637.3 L480.9 641.3 L481.9 636.8 L482.8 629.9 L484.0 636.1 L485.2 633.3 L486.4 630.9 L487.0 636.8 L487.4 638.3 L488.6 633.9 L489.4 634.8 L490.6 636.4 L491.2 634.7 L491.9 631.5 L492.5 638.0 L493.4 641.2 L494.2 634.3 L494.7 629.9 L495.8 634.0 L496.1 629.5 L496.5 624.1 L496.8 619.0 L497.2 619.3 L497.4 624.1 L497.8 629.2 L498.5 633.7 L499.4 634.6 L500.2 637.4 L500.8 635.4 L501.3 631.1 L503.4 640.4 L503.9 636.4 L504.6 627.9 L505.4 634.1 L505.9 636.1 L507.2 631.3 L508.0 630.6 L508.6 635.7 L509.8 641.4 L511.2 632.3 L511.9 628.4 L512.7 633.3 L513.4 636.3 L515.5 627.9 L516.6 639.1 L517.0 635.9 L517.5 630.7 L518.6 634.4 L519.9 637.7 L521.9 632.9 L522.4 636.2 L522.9 637.8 L523.6 632.8 L524.2 631.5 L525.4 634.0 L525.8 581.4 L526.1 518.3 L526.5 458.7 L526.8 462.2 L527.0 518.3 L527.4 577.9 L528.1 630.5 L528.3 639.1 L529.1 633.0 L529.7 632.3 L531.2 637.4 L532.0 635.5 L532.7 632.8 L534.3 637.7 L535.6 632.8 L536.3 630.2 L537.3 631.9 L538.6 635.8 L539.4 632.3 L540.1 631.5 L541.3 638.5 L541.9 641.1 L542.2 638.2 L542.9 630.7 L543.6 634.9 L543.9 637.9 L545.2 632.7 L545.9 634.0 L546.5 636.4 L547.6 630.9 L548.6 630.6 L549.6 635.4 L550.1 632.3 L551.0 627.6 L552.3 635.4 L552.8 638.7 L553.5 634.6 L553.8 631.1 L555.1 635.9 L556.7 631.6 L557.7 638.2 L558.2 641.8 L559.5 634.8 L560.5 630.6 L561.4 634.6 L562.7 630.6 L563.6 630.3 L564.9 633.2 L565.5 634.3 L566.9 629.6 L567.2 632.5 L567.9 639.1 L568.8 632.1 L569.3 627.8 L571.2 635.5 L571.8 632.4 L572.3 630.8 L574.0 635.7 L575.1 633.3 L576.2 631.2 L576.7 635.8 L577.1 637.1 L578.4 629.6 L579.2 635.3 L579.9 638.1 L580.6 633.4 L581.0 631.3 L582.5 635.8 L583.7 631.9 L584.4 627.2 L585.5 634.4 L586.4 636.3 L588.3 632.2 L589.6 638.7 L591.8 629.7 L592.7 635.6 L593.3 634.5 L594.4 631.6 L594.9 636.1 L595.6 638.7 L597.6 631.6 L598.8 637.0 L599.6 638.4 L600.7 632.8 L602.1 636.8 L603.2 629.1 L603.6 632.9 L604.2 637.6 L604.9 633.3 L605.3 631.9 L605.7 633.7 L606.4 640.1 L608.2 632.0 L608.7 634.4 L609.6 638.3 L610.1 635.3 L610.9 629.6 L611.4 633.7 L612.1 637.8 L612.5 634.0 L612.9 578.7 L613.2 512.4 L613.5 449.7 L613.9 453.4 L614.1 512.4 L614.5 575.0 L615.2 630.3 L616.1 640.7 L617.9 630.0 L618.3 633.2 L619.0 638.8 L620.4 630.6 L621.0 635.2 L621.5 635.4 L623.7 632.8 L624.6 637.5 L625.4 635.6 L626.5 631.0 L627.2 633.1 L627.7 634.8 L628.3 632.6 L629.0 631.9 L629.8 634.4 L630.7 636.6 L631.6 631.3 L632.3 629.9 L633.0 632.1 L634.4 640.5 L635.9 632.6 L636.3 636.9 L636.9 637.6 L639.0 632.5 L639.9 632.1 L640.9 636.0 L641.5 633.4 L642.2 631.7 L643.2 638.3 L644.0 631.8 L644.3 632.2 L644.9 633.0 L646.0 636.6 L648.0 628.8 L648.7 633.0 L649.3 636.5 L651.0 629.5 L651.7 633.2 L652.0 634.0 L654.2 630.9 L654.7 635.1 L655.1 637.0 L656.0 631.1 L656.8 625.5 L657.5 629.8 L658.9 635.4 L659.6 631.6 L660.3 631.0 L661.2 636.7 L662.6 632.2 L663.4 637.4 L664.5 640.7 L665.2 637.8 L666.6 629.5 L667.3 636.4 L667.5 639.8 L667.9 635.2 L668.6 629.1 L670.7 637.0 L671.2 635.9 L672.1 631.6 L672.9 631.1 L674.3 634.6 L675.2 633.8 L675.7 631.9 L676.7 631.8 L678.0 635.1 L680.2 630.6 L682.1 636.9 L682.9 632.9 L683.4 630.9 L684.1 631.5 L685.4 633.3 L686.6 626.6 L688.9 636.8 L690.3 627.9 L690.8 630.1 L691.7 633.7 L692.5 629.6 L692.9 630.6 L694.2 635.9 L696.4 630.9 L698.3 634.2 L699.5 630.0 L700.3 633.0 L701.5 634.6 L702.5 630.3 L703.2 630.0 L704.6 634.8 L705.6 630.5 L706.2 627.3 L706.9 634.1 L707.3 637.2 L709.4 630.2 L710.3 633.7 L711.5 634.8 L712.2 632.0 L712.7 627.0 L714.4 638.1 L715.2 632.9 L716.3 625.7 L718.4 634.0 L718.8 574.3 L719.1 502.7 L719.4 435.0 L719.8 439.0 L720.0 502.7 L720.4 570.3 L721.1 630.0 L721.5 639.4 L723.0 632.1 L723.7 629.0 L724.3 631.9 L724.8 636.5 L726.5 630.1 L727.6 633.6 L728.2 637.8 L729.3 632.6 L729.7 634.7 L730.1 635.9 L731.2 629.0 L731.7 627.7 L732.8 635.6 L734.1 630.8 L735.4 641.7 L737.1 627.7 L738.2 635.7 L738.8 640.9 L740.1 630.8 L741.3 634.7 L742.2 639.4 L742.8 635.4 L744.1 632.2 L744.8 633.5 L745.2 636.4 L746.1 633.0 L746.6 630.0 L747.1 632.4 L747.5 638.2 L748.5 631.1 L749.1 633.2 L749.5 636.7 L751.6 632.8 L752.9 634.6 L753.5 636.6 L754.2 634.2 L754.8 630.0 L757.0 634.4 L758.9 629.9 L759.3 629.6 L760.2 634.5 L761.2 630.5 L761.9 636.0 L762.5 639.3 L763.6 633.0 L764.2 628.9 L766.2 633.7 L768.2 631.4 L769.1 633.5 L769.7 635.5 L770.6 630.7 L771.5 627.8 L772.7 635.8 L773.3 639.6 L773.9 633.7 L774.6 631.2 L775.0 631.2 L775.9 634.2 L776.9 631.0 L777.7 628.6 L779.3 634.9 L779.7 632.5 L780.2 630.5 L780.9 637.5 L781.3 639.0" fill="none" stroke="#cc1616" stroke-width="1.6" stroke-linejoin="round" clip-path="url(#cp4)"/>
<path d="M461.9 636.2 L462.9 632.6 L463.8 629.6 L464.3 632.7 L465.0 639.3 L465.6 638.4 L466.9 632.0 L468.1 637.1 L469.4 635.0 L470.3 632.1 L470.7 635.2 L471.4 639.4 L472.3 632.4 L473.6 634.7 L474.5 636.6 L475.1 634.4 L476.5 628.2 L477.2 635.0 L477.5 638.1 L479.7 629.8 L480.3 635.4 L481.3 640.1 L483.1 627.8 L484.3 632.3 L485.2 638.3 L485.9 632.0 L486.3 632.5 L488.3 640.0 L488.8 636.4 L489.6 631.7 L490.2 634.5 L491.2 640.8 L492.2 637.8 L492.7 632.7 L493.8 635.1 L494.9 639.7 L495.4 637.6 L496.4 630.4 L496.8 634.3 L497.6 637.4 L498.5 632.4 L499.2 634.3 L500.3 637.7 L501.6 629.0 L502.6 638.4 L503.6 627.0 L504.4 633.9 L504.9 640.6 L505.5 633.8 L506.0 628.7 L506.7 633.7 L507.5 638.7 L508.7 629.6 L509.3 629.2 L510.5 636.5 L511.5 630.5 L512.5 633.1 L513.3 635.3 L514.5 632.6 L515.6 630.7 L517.1 635.8 L517.8 632.8 L518.8 629.7 L519.5 633.4 L520.2 635.9 L521.1 633.0 L521.9 628.8 L522.5 630.8 L523.6 636.1 L523.9 632.9 L524.6 627.1 L526.5 635.2 L527.3 633.0 L528.8 634.0 L529.1 593.2 L529.5 544.2 L529.8 498.0 L530.2 500.7 L530.4 544.2 L530.8 590.5 L531.5 631.3 L531.9 626.3 L532.9 634.1 L533.9 632.6 L534.6 628.2 L535.7 633.7 L536.7 638.2 L537.2 635.2 L538.1 626.5 L539.0 636.9 L539.7 632.6 L540.6 625.5 L541.5 630.7 L542.7 635.8 L543.8 634.2 L544.8 631.1 L545.8 632.2 L546.9 634.5 L548.2 630.5 L549.5 639.1 L550.2 635.7 L551.0 629.2 L551.7 633.4 L553.2 636.9 L553.7 633.2 L554.3 628.3 L556.4 637.1 L558.5 629.5 L559.1 633.7 L559.5 639.6 L560.6 635.9 L561.7 632.1 L563.1 637.1 L565.2 626.9 L566.3 629.9 L567.3 635.7 L568.6 630.9 L570.3 635.7 L572.5 628.3 L573.5 633.1 L574.6 634.8 L575.8 631.3 L576.9 634.8 L577.9 629.4 L578.5 634.1 L578.9 636.7 L580.0 627.3 L581.0 639.1 L581.5 633.4 L582.0 631.1 L582.3 632.7 L582.9 636.2 L584.1 629.6 L584.5 632.2 L585.0 636.3 L585.7 632.3 L586.1 631.0 L587.1 636.1 L588.2 638.7 L590.2 631.4 L591.6 641.1 L592.3 637.6 L593.6 631.0 L595.7 637.2 L597.4 626.3 L598.2 633.7 L599.2 640.0 L599.7 636.3 L600.6 630.9 L601.8 636.3 L602.7 636.0 L604.1 633.2 L606.3 640.2 L607.1 635.2 L608.4 631.1 L609.2 634.0 L609.5 588.7 L609.9 534.3 L610.2 482.9 L610.6 485.9 L610.8 534.3 L611.1 585.6 L611.9 631.0 L612.5 630.7 L614.0 634.6 L615.1 631.3 L615.8 632.7 L616.6 635.7 L617.9 633.4 L618.8 628.1 L620.1 639.1 L621.7 632.2 L622.5 635.0 L623.2 636.5 L623.7 635.0 L624.8 629.8 L625.4 632.5 L626.5 636.1 L627.8 634.4 L628.7 633.4 L630.5 640.5 L631.4 636.6 L632.4 629.7 L633.4 638.9 L635.4 632.0 L636.7 633.8 L637.8 636.1 L638.4 627.4 L638.7 622.9 L640.6 640.4 L641.0 639.5 L641.5 633.5 L642.2 634.6 L643.5 638.2 L644.5 633.1 L645.2 630.5 L645.8 635.2 L646.4 641.3 L648.0 628.9 L648.5 633.5 L649.2 636.0 L651.5 627.2 L652.2 634.1 L652.5 636.5 L653.8 633.8 L654.8 631.7 L656.0 640.8 L657.4 631.6 L658.1 630.1 L658.8 635.4 L659.1 635.7 L660.1 635.3 L661.2 628.3 L662.3 631.3 L663.0 636.1 L663.9 634.6 L664.8 630.9 L666.0 639.7 L667.1 634.6 L668.0 634.3 L670.2 640.0 L672.4 634.4 L674.5 639.7 L675.3 638.1 L676.5 631.1 L677.7 640.9 L678.7 631.4 L680.1 636.1 L682.3 629.7 L683.7 635.7 L684.4 639.2 L685.7 632.9 L687.1 636.8 L689.0 631.1 L690.9 641.2 L692.7 629.9 L693.9 637.0 L694.6 640.7 L695.6 633.9 L696.0 632.6 L698.2 637.7 L699.3 627.8 L701.6 639.0 L703.5 628.5 L704.9 638.1 L705.4 635.5 L706.5 629.0 L708.6 636.6 L709.6 631.3 L710.9 635.1 L711.9 641.2 L713.0 637.4 L713.9 630.6 L714.5 634.0 L714.9 585.2 L715.2 526.7 L715.5 471.4 L715.9 474.7 L716.1 526.7 L716.5 582.0 L717.2 630.7 L717.7 635.5 L718.2 637.0 L719.9 629.0 L721.4 637.1 L722.1 638.7 L723.1 634.9 L723.8 631.1 L724.5 633.2 L725.2 636.3 L725.6 633.2 L726.2 630.8 L726.5 632.3 L727.1 636.9 L728.3 634.2 L728.8 633.7 L730.0 636.7 L730.7 636.5 L731.2 633.1 L731.9 631.4 L733.1 636.6 L734.2 636.5 L734.8 633.7 L736.9 640.0 L737.4 635.3 L737.8 631.5 L739.4 635.8 L740.4 630.8 L741.7 627.8 L743.7 634.7 L745.2 631.1 L746.0 626.6 L747.9 635.6 L748.4 632.7 L749.3 630.8 L750.0 632.8 L751.1 636.2 L751.7 633.3 L752.1 626.7 L753.5 631.4 L754.1 633.6 L754.6 631.5 L755.1 629.8 L755.8 633.7 L756.2 637.7 L757.1 635.5 L758.1 631.2 L759.8 634.5 L760.5 633.5 L761.2 629.5 L762.1 634.7 L762.5 636.3 L763.6 633.4 L764.6 627.8 L765.5 630.3 L766.7 635.4 L767.7 627.9 L768.5 635.7 L769.1 639.7 L769.6 633.9 L770.2 626.9 L772.1 635.7 L773.0 631.7 L774.3 641.4 L774.7 637.1 L775.5 628.1 L777.2 641.1 L778.2 636.7 L778.9 632.6 L780.2 636.6 L780.9 635.5 L781.3 632.9 L782.2 637.6" fill="none" stroke="#1c1c8a" stroke-width="1.35" stroke-linejoin="round"/>
<path d="M461.9 636.2 L462.9 632.6 L463.8 629.6 L464.3 632.7 L465.0 639.3 L465.6 638.4 L466.9 632.0 L468.1 637.1 L469.4 635.0 L470.3 632.1 L470.7 635.2 L471.4 639.4 L472.3 632.4 L473.6 634.7 L474.5 636.6 L475.1 634.4 L476.5 628.2 L477.2 635.0 L477.5 638.1 L479.7 629.8 L480.3 635.4 L481.3 640.1 L483.1 627.8 L484.3 632.3 L485.2 638.3 L485.9 632.0 L486.3 632.5 L488.3 640.0 L488.8 636.4 L489.6 631.7 L490.2 634.5 L491.2 640.8 L492.2 637.8 L492.7 632.7 L493.8 635.1 L494.9 639.7 L495.4 637.6 L496.4 630.4 L496.8 634.3 L497.6 637.4 L498.5 632.4 L499.2 634.3 L500.3 637.7 L501.6 629.0 L502.6 638.4 L503.6 627.0 L504.4 633.9 L504.9 640.6 L505.5 633.8 L506.0 628.7 L506.7 633.7 L507.5 638.7 L508.7 629.6 L509.3 629.2 L510.5 636.5 L511.5 630.5 L512.5 633.1 L513.3 635.3 L514.5 632.6 L515.6 630.7 L517.1 635.8 L517.8 632.8 L518.8 629.7 L519.5 633.4 L520.2 635.9 L521.1 633.0 L521.9 628.8 L522.5 630.8 L523.6 636.1 L523.9 632.9 L524.6 627.1 L526.5 635.2 L527.3 633.0 L528.8 634.0 L529.1 593.2 L529.5 544.2 L529.8 498.0 L530.2 500.7 L530.4 544.2 L530.8 590.5 L531.5 631.3 L531.9 626.3 L532.9 634.1 L533.9 632.6 L534.6 628.2 L535.7 633.7 L536.7 638.2 L537.2 635.2 L538.1 626.5 L539.0 636.9 L539.7 632.6 L540.6 625.5 L541.5 630.7 L542.7 635.8 L543.8 634.2 L544.8 631.1 L545.8 632.2 L546.9 634.5 L548.2 630.5 L549.5 639.1 L550.2 635.7 L551.0 629.2 L551.7 633.4 L553.2 636.9 L553.7 633.2 L554.3 628.3 L556.4 637.1 L558.5 629.5 L559.1 633.7 L559.5 639.6 L560.6 635.9 L561.7 632.1 L563.1 637.1 L565.2 626.9 L566.3 629.9 L567.3 635.7 L568.6 630.9 L570.3 635.7 L572.5 628.3 L573.5 633.1 L574.6 634.8 L575.8 631.3 L576.9 634.8 L577.9 629.4 L578.5 634.1 L578.9 636.7 L580.0 627.3 L581.0 639.1 L581.5 633.4 L582.0 631.1 L582.3 632.7 L582.9 636.2 L584.1 629.6 L584.5 632.2 L585.0 636.3 L585.7 632.3 L586.1 631.0 L587.1 636.1 L588.2 638.7 L590.2 631.4 L591.6 641.1 L592.3 637.6 L593.6 631.0 L595.7 637.2 L597.4 626.3 L598.2 633.7 L599.2 640.0 L599.7 636.3 L600.6 630.9 L601.8 636.3 L602.7 636.0 L604.1 633.2 L606.3 640.2 L607.1 635.2 L608.4 631.1 L609.2 634.0 L609.5 588.7 L609.9 534.3 L610.2 482.9 L610.6 485.9 L610.8 534.3 L611.1 585.6 L611.9 631.0 L612.5 630.7 L614.0 634.6 L615.1 631.3 L615.8 632.7 L616.6 635.7 L617.9 633.4 L618.8 628.1 L620.1 639.1 L621.7 632.2 L622.5 635.0 L623.2 636.5 L623.7 635.0 L624.8 629.8 L625.4 632.5 L626.5 636.1 L627.8 634.4 L628.7 633.4 L630.5 640.5 L631.4 636.6 L632.4 629.7 L633.4 638.9 L635.4 632.0 L636.7 633.8 L637.8 636.1 L638.4 627.4 L638.7 622.9 L640.6 640.4 L641.0 639.5 L641.5 633.5 L642.2 634.6 L643.5 638.2 L644.5 633.1 L645.2 630.5 L645.8 635.2 L646.4 641.3 L648.0 628.9 L648.5 633.5 L649.2 636.0 L651.5 627.2 L652.2 634.1 L652.5 636.5 L653.8 633.8 L654.8 631.7 L656.0 640.8 L657.4 631.6 L658.1 630.1 L658.8 635.4 L659.1 635.7 L660.1 635.3 L661.2 628.3 L662.3 631.3 L663.0 636.1 L663.9 634.6 L664.8 630.9 L666.0 639.7 L667.1 634.6 L668.0 634.3 L670.2 640.0 L672.4 634.4 L674.5 639.7 L675.3 638.1 L676.5 631.1 L677.7 640.9 L678.7 631.4 L680.1 636.1 L682.3 629.7 L683.7 635.7 L684.4 639.2 L685.7 632.9 L687.1 636.8 L689.0 631.1 L690.9 641.2 L692.7 629.9 L693.9 637.0 L694.6 640.7 L695.6 633.9 L696.0 632.6 L698.2 637.7 L699.3 627.8 L701.6 639.0 L703.5 628.5 L704.9 638.1 L705.4 635.5 L706.5 629.0 L708.6 636.6 L709.6 631.3 L710.9 635.1 L711.9 641.2 L713.0 637.4 L713.9 630.6 L714.5 634.0 L714.9 585.2 L715.2 526.7 L715.5 471.4 L715.9 474.7 L716.1 526.7 L716.5 582.0 L717.2 630.7 L717.7 635.5 L718.2 637.0 L719.9 629.0 L721.4 637.1 L722.1 638.7 L723.1 634.9 L723.8 631.1 L724.5 633.2 L725.2 636.3 L725.6 633.2 L726.2 630.8 L726.5 632.3 L727.1 636.9 L728.3 634.2 L728.8 633.7 L730.0 636.7 L730.7 636.5 L731.2 633.1 L731.9 631.4 L733.1 636.6 L734.2 636.5 L734.8 633.7 L736.9 640.0 L737.4 635.3 L737.8 631.5 L739.4 635.8 L740.4 630.8 L741.7 627.8 L743.7 634.7 L745.2 631.1 L746.0 626.6 L747.9 635.6 L748.4 632.7 L749.3 630.8 L750.0 632.8 L751.1 636.2 L751.7 633.3 L752.1 626.7 L753.5 631.4 L754.1 633.6 L754.6 631.5 L755.1 629.8 L755.8 633.7 L756.2 637.7 L757.1 635.5 L758.1 631.2 L759.8 634.5 L760.5 633.5 L761.2 629.5 L762.1 634.7 L762.5 636.3 L763.6 633.4 L764.6 627.8 L765.5 630.3 L766.7 635.4 L767.7 627.9 L768.5 635.7 L769.1 639.7 L769.6 633.9 L770.2 626.9 L772.1 635.7 L773.0 631.7 L774.3 641.4 L774.7 637.1 L775.5 628.1 L777.2 641.1 L778.2 636.7 L778.9 632.6 L780.2 636.6 L780.9 635.5 L781.3 632.9 L782.2 637.6" fill="none" stroke="#1c1ca0" stroke-width="1.6" stroke-linejoin="round" clip-path="url(#cp4)"/>
<path d="M461.9 628.6 L463.2 642.3 L464.0 637.2 L465.1 630.8 L466.3 637.3 L467.3 639.5 L467.7 636.3 L468.7 633.3 L471.0 637.3 L473.0 632.9 L475.0 635.4 L475.9 633.4 L477.0 629.9 L477.5 632.9 L478.2 637.4 L480.0 628.9 L481.4 640.8 L482.9 628.2 L484.0 634.1 L484.7 638.8 L486.8 631.9 L487.6 636.0 L488.2 638.1 L489.0 636.0 L490.2 630.4 L492.0 637.7 L492.5 633.7 L493.4 627.1 L494.1 632.2 L494.6 637.7 L495.7 629.8 L496.8 627.2 L497.2 628.6 L497.9 634.5 L499.3 630.2 L500.4 636.9 L501.1 634.2 L502.6 631.1 L503.4 635.9 L503.9 637.5 L505.0 630.6 L505.9 631.1 L506.9 635.0 L507.3 633.1 L508.2 630.1 L509.6 637.8 L510.7 633.4 L511.5 630.5 L512.5 643.9 L513.1 638.7 L513.8 627.5 L514.2 629.8 L515.0 635.9 L516.0 627.5 L516.9 632.5 L517.7 639.6 L519.3 631.4 L521.6 637.4 L522.6 632.2 L523.3 627.8 L524.4 640.6 L525.5 632.9 L526.3 630.0 L527.7 636.9 L528.3 642.4 L529.8 635.2 L530.4 633.1 L531.0 637.8 L531.3 639.7 L531.7 633.0 L532.2 629.5 L532.6 634.2 L533.3 641.2 L533.8 636.1 L534.8 629.1 L535.3 635.3 L536.0 642.4 L538.0 634.8 L539.5 641.1 L540.9 633.3 L541.5 638.4 L542.0 643.1 L542.6 638.3 L543.2 634.6 L544.5 636.9 L545.2 639.6 L547.2 633.8 L548.4 636.1 L549.1 636.4 L550.2 632.9 L550.9 627.7 L551.4 634.0 L551.8 577.6 L552.1 509.9 L552.4 446.0 L552.8 449.8 L553.0 509.9 L553.4 573.8 L554.1 630.2 L554.6 631.1 L555.8 635.2 L556.9 636.3 L558.1 628.6 L559.3 636.7 L560.3 633.1 L561.4 630.6 L563.6 635.1 L565.2 628.6 L566.0 634.4 L567.0 637.9 L569.2 627.1 L571.4 636.4 L572.2 634.2 L573.1 631.2 L573.6 631.8 L574.1 636.6 L575.0 631.4 L575.9 626.4 L576.6 631.8 L576.9 634.9 L577.8 629.5 L578.2 630.0 L579.4 632.9 L580.1 636.2 L582.3 630.2 L583.4 632.3 L584.3 636.3 L585.4 633.2 L586.0 631.5 L586.4 635.2 L587.3 637.5 L589.1 631.9 L589.9 635.7 L590.8 637.6 L591.2 635.3 L592.0 630.8 L593.0 633.0 L593.9 635.1 L594.5 632.9 L594.9 631.1 L595.6 635.8 L596.9 636.8 L597.8 633.4 L599.2 630.0 L599.7 633.2 L600.6 636.4 L601.2 630.3 L601.6 627.3 L602.4 629.6 L603.8 634.9 L604.6 631.6 L605.9 625.3 L608.1 637.0 L609.6 631.3 L611.3 638.0 L613.1 628.3 L613.9 630.5 L614.9 636.3 L615.6 633.2 L616.4 627.1 L618.5 642.3 L620.4 631.2 L622.1 639.0 L623.1 634.6 L623.9 632.2 L624.6 636.2 L625.7 641.0 L627.9 631.4 L629.2 639.0 L630.3 632.9 L631.2 632.1 L633.0 635.8 L633.7 633.7 L634.7 627.7 L635.6 629.7 L636.6 636.4 L637.5 635.3 L638.1 631.4 L639.7 636.5 L640.2 635.2 L640.9 632.6 L641.6 636.0 L642.8 639.8 L644.9 632.9 L646.0 637.3 L646.5 638.6 L647.5 631.7 L648.0 628.2 L648.9 633.6 L649.9 637.2 L650.9 633.1 L651.8 630.4 L652.8 636.0 L653.5 637.2 L654.5 634.8 L655.4 631.0 L656.0 634.2 L656.5 640.1 L657.9 634.0 L658.7 628.8 L660.9 638.2 L662.6 628.5 L664.7 635.5 L666.9 631.0 L668.0 637.2 L669.0 630.6 L669.4 634.0 L669.8 570.5 L670.1 494.3 L670.4 422.3 L670.8 426.5 L671.0 494.3 L671.4 566.3 L672.1 629.8 L673.0 637.2 L675.1 632.6 L675.7 641.3 L676.1 645.0 L678.4 630.2 L680.2 637.4 L680.9 634.1 L681.4 631.5 L682.7 638.0 L684.4 629.7 L685.7 633.0 L686.5 635.2 L687.3 633.2 L688.7 630.7 L690.6 637.1 L691.4 632.1 L692.5 629.6 L693.2 633.9 L694.2 634.6 L695.2 630.2 L696.1 625.6 L697.7 634.7 L698.2 631.4 L699.0 628.0 L700.7 635.6 L702.9 630.7 L703.6 632.1 L705.1 640.0 L707.3 631.1 L709.2 635.6 L710.3 622.9 L711.2 631.0 L712.2 636.5 L713.1 631.2 L713.7 629.0 L715.6 641.7 L716.3 637.1 L717.5 633.8 L719.6 636.5 L721.1 632.5 L722.5 636.6 L724.0 630.2 L724.7 627.7 L725.6 633.2 L726.3 638.6 L726.9 633.5 L727.2 628.9 L728.0 634.1 L728.7 637.4 L729.5 633.6 L730.1 631.5 L730.6 634.1 L731.7 638.5 L732.6 634.3 L733.6 631.3 L735.1 640.2 L736.3 634.7 L737.3 630.5 L737.8 632.9 L738.5 637.5 L739.2 633.2 L739.7 629.7 L740.3 632.4 L740.9 636.7 L742.3 632.2 L742.9 635.9 L743.9 639.8 L745.9 630.7 L748.0 634.8 L748.9 634.0 L750.1 629.0 L751.0 634.4 L751.4 637.5 L752.0 632.1 L752.7 628.1 L753.5 630.4 L754.5 638.8 L755.5 632.3 L756.7 632.8 L757.4 635.0 L759.0 631.8 L759.5 637.2 L760.2 640.2 L760.9 635.9 L761.8 629.1 L763.1 637.2 L763.7 629.2 L764.1 627.3 L766.0 635.3 L768.0 630.9 L769.1 632.6 L769.9 635.0 L770.5 632.7 L771.1 630.8 L771.9 632.4 L772.6 640.0 L773.6 632.7 L774.6 628.5 L775.3 635.4 L775.9 639.6 L776.9 633.7 L777.6 629.7 L778.3 634.3 L778.8 638.8 L779.7 634.5 L780.2 630.7 L780.9 632.0 L781.9 637.8" fill="none" stroke="#1a7a22" stroke-width="1.35" stroke-linejoin="round"/>
<path d="M461.9 628.6 L463.2 642.3 L464.0 637.2 L465.1 630.8 L466.3 637.3 L467.3 639.5 L467.7 636.3 L468.7 633.3 L471.0 637.3 L473.0 632.9 L475.0 635.4 L475.9 633.4 L477.0 629.9 L477.5 632.9 L478.2 637.4 L480.0 628.9 L481.4 640.8 L482.9 628.2 L484.0 634.1 L484.7 638.8 L486.8 631.9 L487.6 636.0 L488.2 638.1 L489.0 636.0 L490.2 630.4 L492.0 637.7 L492.5 633.7 L493.4 627.1 L494.1 632.2 L494.6 637.7 L495.7 629.8 L496.8 627.2 L497.2 628.6 L497.9 634.5 L499.3 630.2 L500.4 636.9 L501.1 634.2 L502.6 631.1 L503.4 635.9 L503.9 637.5 L505.0 630.6 L505.9 631.1 L506.9 635.0 L507.3 633.1 L508.2 630.1 L509.6 637.8 L510.7 633.4 L511.5 630.5 L512.5 643.9 L513.1 638.7 L513.8 627.5 L514.2 629.8 L515.0 635.9 L516.0 627.5 L516.9 632.5 L517.7 639.6 L519.3 631.4 L521.6 637.4 L522.6 632.2 L523.3 627.8 L524.4 640.6 L525.5 632.9 L526.3 630.0 L527.7 636.9 L528.3 642.4 L529.8 635.2 L530.4 633.1 L531.0 637.8 L531.3 639.7 L531.7 633.0 L532.2 629.5 L532.6 634.2 L533.3 641.2 L533.8 636.1 L534.8 629.1 L535.3 635.3 L536.0 642.4 L538.0 634.8 L539.5 641.1 L540.9 633.3 L541.5 638.4 L542.0 643.1 L542.6 638.3 L543.2 634.6 L544.5 636.9 L545.2 639.6 L547.2 633.8 L548.4 636.1 L549.1 636.4 L550.2 632.9 L550.9 627.7 L551.4 634.0 L551.8 577.6 L552.1 509.9 L552.4 446.0 L552.8 449.8 L553.0 509.9 L553.4 573.8 L554.1 630.2 L554.6 631.1 L555.8 635.2 L556.9 636.3 L558.1 628.6 L559.3 636.7 L560.3 633.1 L561.4 630.6 L563.6 635.1 L565.2 628.6 L566.0 634.4 L567.0 637.9 L569.2 627.1 L571.4 636.4 L572.2 634.2 L573.1 631.2 L573.6 631.8 L574.1 636.6 L575.0 631.4 L575.9 626.4 L576.6 631.8 L576.9 634.9 L577.8 629.5 L578.2 630.0 L579.4 632.9 L580.1 636.2 L582.3 630.2 L583.4 632.3 L584.3 636.3 L585.4 633.2 L586.0 631.5 L586.4 635.2 L587.3 637.5 L589.1 631.9 L589.9 635.7 L590.8 637.6 L591.2 635.3 L592.0 630.8 L593.0 633.0 L593.9 635.1 L594.5 632.9 L594.9 631.1 L595.6 635.8 L596.9 636.8 L597.8 633.4 L599.2 630.0 L599.7 633.2 L600.6 636.4 L601.2 630.3 L601.6 627.3 L602.4 629.6 L603.8 634.9 L604.6 631.6 L605.9 625.3 L608.1 637.0 L609.6 631.3 L611.3 638.0 L613.1 628.3 L613.9 630.5 L614.9 636.3 L615.6 633.2 L616.4 627.1 L618.5 642.3 L620.4 631.2 L622.1 639.0 L623.1 634.6 L623.9 632.2 L624.6 636.2 L625.7 641.0 L627.9 631.4 L629.2 639.0 L630.3 632.9 L631.2 632.1 L633.0 635.8 L633.7 633.7 L634.7 627.7 L635.6 629.7 L636.6 636.4 L637.5 635.3 L638.1 631.4 L639.7 636.5 L640.2 635.2 L640.9 632.6 L641.6 636.0 L642.8 639.8 L644.9 632.9 L646.0 637.3 L646.5 638.6 L647.5 631.7 L648.0 628.2 L648.9 633.6 L649.9 637.2 L650.9 633.1 L651.8 630.4 L652.8 636.0 L653.5 637.2 L654.5 634.8 L655.4 631.0 L656.0 634.2 L656.5 640.1 L657.9 634.0 L658.7 628.8 L660.9 638.2 L662.6 628.5 L664.7 635.5 L666.9 631.0 L668.0 637.2 L669.0 630.6 L669.4 634.0 L669.8 570.5 L670.1 494.3 L670.4 422.3 L670.8 426.5 L671.0 494.3 L671.4 566.3 L672.1 629.8 L673.0 637.2 L675.1 632.6 L675.7 641.3 L676.1 645.0 L678.4 630.2 L680.2 637.4 L680.9 634.1 L681.4 631.5 L682.7 638.0 L684.4 629.7 L685.7 633.0 L686.5 635.2 L687.3 633.2 L688.7 630.7 L690.6 637.1 L691.4 632.1 L692.5 629.6 L693.2 633.9 L694.2 634.6 L695.2 630.2 L696.1 625.6 L697.7 634.7 L698.2 631.4 L699.0 628.0 L700.7 635.6 L702.9 630.7 L703.6 632.1 L705.1 640.0 L707.3 631.1 L709.2 635.6 L710.3 622.9 L711.2 631.0 L712.2 636.5 L713.1 631.2 L713.7 629.0 L715.6 641.7 L716.3 637.1 L717.5 633.8 L719.6 636.5 L721.1 632.5 L722.5 636.6 L724.0 630.2 L724.7 627.7 L725.6 633.2 L726.3 638.6 L726.9 633.5 L727.2 628.9 L728.0 634.1 L728.7 637.4 L729.5 633.6 L730.1 631.5 L730.6 634.1 L731.7 638.5 L732.6 634.3 L733.6 631.3 L735.1 640.2 L736.3 634.7 L737.3 630.5 L737.8 632.9 L738.5 637.5 L739.2 633.2 L739.7 629.7 L740.3 632.4 L740.9 636.7 L742.3 632.2 L742.9 635.9 L743.9 639.8 L745.9 630.7 L748.0 634.8 L748.9 634.0 L750.1 629.0 L751.0 634.4 L751.4 637.5 L752.0 632.1 L752.7 628.1 L753.5 630.4 L754.5 638.8 L755.5 632.3 L756.7 632.8 L757.4 635.0 L759.0 631.8 L759.5 637.2 L760.2 640.2 L760.9 635.9 L761.8 629.1 L763.1 637.2 L763.7 629.2 L764.1 627.3 L766.0 635.3 L768.0 630.9 L769.1 632.6 L769.9 635.0 L770.5 632.7 L771.1 630.8 L771.9 632.4 L772.6 640.0 L773.6 632.7 L774.6 628.5 L775.3 635.4 L775.9 639.6 L776.9 633.7 L777.6 629.7 L778.3 634.3 L778.8 638.8 L779.7 634.5 L780.2 630.7 L780.9 632.0 L781.9 637.8" fill="none" stroke="#1a8a22" stroke-width="1.6" stroke-linejoin="round" clip-path="url(#cp4)"/>
<path d="M501.8 647.4V642.9M501.8 378.0V382.5M541.9 647.4V642.9M541.9 378.0V382.5M582.0 647.4V642.9M582.0 378.0V382.5M622.2 647.4V642.9M622.2 378.0V382.5M662.3 647.4V642.9M662.3 378.0V382.5M702.5 647.4V642.9M702.5 378.0V382.5M742.6 647.4V642.9M742.6 378.0V382.5M461.6 634.6H466.1M782.8 634.6H778.3M461.6 583.3H466.1M782.8 583.3H778.3M461.6 531.9H466.1M782.8 531.9H778.3M461.6 480.6H466.1M782.8 480.6H778.3M461.6 429.3H466.1M782.8 429.3H778.3M461.6 378.0H466.1M782.8 378.0H778.3" stroke="#4a4a7a" stroke-width="1.5" fill="none"/>
<path d="M461.6 378.0V647.4H782.8V378.0" fill="none" stroke="#727290" stroke-width="1.5"/>
<path d="M460.9 378.0H783.5" fill="none" stroke="#363672" stroke-width="1.5"/>
<text class="t" transform="translate(461.6 662.6) scale(1 1.070)" text-anchor="middle">0</text>
<text class="t" transform="translate(501.8 662.6) scale(1 1.070)" text-anchor="middle">1</text>
<text class="t" transform="translate(541.9 662.6) scale(1 1.070)" text-anchor="middle">2</text>
<text class="t" transform="translate(582.0 662.6) scale(1 1.070)" text-anchor="middle">3</text>
<text class="t" transform="translate(622.2 662.6) scale(1 1.070)" text-anchor="middle">4</text>
<text class="t" transform="translate(662.3 662.6) scale(1 1.070)" text-anchor="middle">5</text>
<text class="t" transform="translate(702.5 662.6) scale(1 1.070)" text-anchor="middle">6</text>
<text class="t" transform="translate(742.6 662.6) scale(1 1.070)" text-anchor="middle">7</text>
<text class="t" transform="translate(782.8 662.6) scale(1 1.070)" text-anchor="middle">8</text>
<text class="t" transform="translate(452.8 635.9) scale(1 1.070)" text-anchor="end">0</text>
<text class="t" transform="translate(452.8 584.6) scale(1 1.070)" text-anchor="end">200</text>
<text class="t" transform="translate(452.8 533.2) scale(1 1.070)" text-anchor="end">400</text>
<text class="t" transform="translate(452.8 481.9) scale(1 1.070)" text-anchor="end">600</text>
<text class="t" transform="translate(452.8 430.6) scale(1 1.070)" text-anchor="end">800</text>
<text class="t" transform="translate(452.8 379.3) scale(1 1.070)" text-anchor="end">1000</text>
<text class="ti" x="625.5" y="373.8" text-anchor="middle">s=0.125 mm</text>
<text class="t" x="600.8" y="680.0">H<tspan font-size="9" dy="6.6">z</tspan><tspan font-family="Liberation Serif" font-style="italic" font-size="9.5" dy="-12.4">a</tspan><tspan dx="0.4" dy="5.8">[Oe]</tspan></text>
<text class="yl" transform="translate(410.0 494.8) rotate(-90)" text-anchor="middle" y="5">ΔΦ [Φ<tspan font-size="10.5" dy="5.5">0</tspan><tspan dy="-5.5">]</tspan></text>
</svg></body></html>
